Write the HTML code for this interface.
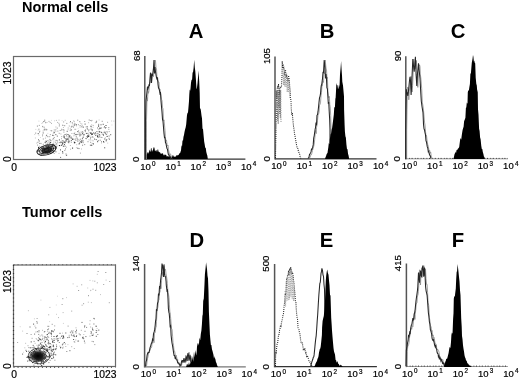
<!DOCTYPE html>
<html><head><meta charset="utf-8"><style>
html,body{margin:0;padding:0;background:#fff;width:520px;height:380px;overflow:hidden}
svg{display:block;filter:blur(0.3px)}
</style></head><body>
<svg width="520" height="380" viewBox="0 0 520 380">
<rect width="520" height="380" fill="#fff"/>
<text x="22" y="12" font-family="Liberation Sans, sans-serif" font-weight="bold" font-size="14.5" fill="#000">Normal cells</text>
<text x="22" y="216.5" font-family="Liberation Sans, sans-serif" font-weight="bold" font-size="14.5" fill="#000">Tumor cells</text>
<text x="196" y="38.2" text-anchor="middle" font-family="Liberation Sans, sans-serif" font-weight="bold" font-size="20.3" fill="#000">A</text>
<text x="327" y="38.2" text-anchor="middle" font-family="Liberation Sans, sans-serif" font-weight="bold" font-size="20.3" fill="#000">B</text>
<text x="458" y="38.2" text-anchor="middle" font-family="Liberation Sans, sans-serif" font-weight="bold" font-size="20.3" fill="#000">C</text>
<text x="196.8" y="247.4" text-anchor="middle" font-family="Liberation Sans, sans-serif" font-weight="bold" font-size="20.3" fill="#000">D</text>
<text x="326.5" y="247.4" text-anchor="middle" font-family="Liberation Sans, sans-serif" font-weight="bold" font-size="20.3" fill="#000">E</text>
<text x="458" y="247.4" text-anchor="middle" font-family="Liberation Sans, sans-serif" font-weight="bold" font-size="20.3" fill="#000">F</text>
<rect x="13.5" y="56.5" width="102.0" height="103.0" fill="none" stroke="#6a6a6a" stroke-width="1.2"/>
<text transform="translate(10.5,84.5) rotate(-90)" font-family="Liberation Sans, sans-serif" font-size="10.3" fill="#000" stroke="#000" stroke-width="0.2">1023</text>
<text transform="translate(10.5,162.0) rotate(-90)" font-family="Liberation Sans, sans-serif" font-size="10.3" fill="#000" stroke="#000" stroke-width="0.2">0</text>
<text x="14.2" y="171.0" text-anchor="middle" font-family="Liberation Sans, sans-serif" font-size="10.3" fill="#000" stroke="#000" stroke-width="0.2">0</text>
<text x="116.5" y="171.0" text-anchor="end" font-family="Liberation Sans, sans-serif" font-size="10.3" fill="#000" stroke="#000" stroke-width="0.2">1023</text>
<rect x="45.3" y="151.3" width="1" height="1" fill="#000" fill-opacity="0.83"/>
<rect x="51.5" y="150.0" width="1" height="1" fill="#000" fill-opacity="0.68"/>
<rect x="51.5" y="149.7" width="1" height="1" fill="#000" fill-opacity="0.52"/>
<rect x="44.9" y="150.7" width="1" height="1" fill="#000" fill-opacity="0.55"/>
<rect x="39.0" y="153.4" width="1" height="1" fill="#000" fill-opacity="0.56"/>
<rect x="47.6" y="152.5" width="1" height="1" fill="#000" fill-opacity="0.97"/>
<rect x="42.5" y="150.0" width="1" height="1" fill="#000" fill-opacity="0.99"/>
<rect x="55.0" y="149.2" width="1" height="1" fill="#000" fill-opacity="0.64"/>
<rect x="47.9" y="150.5" width="1" height="1" fill="#000" fill-opacity="0.65"/>
<rect x="47.6" y="148.6" width="1" height="1" fill="#000" fill-opacity="0.79"/>
<rect x="43.7" y="149.1" width="1" height="1" fill="#000" fill-opacity="0.77"/>
<rect x="48.0" y="149.9" width="1" height="1" fill="#000" fill-opacity="0.60"/>
<rect x="44.5" y="148.5" width="1" height="1" fill="#000" fill-opacity="0.66"/>
<rect x="42.3" y="149.8" width="1" height="1" fill="#000" fill-opacity="0.65"/>
<rect x="48.4" y="146.6" width="1" height="1" fill="#000" fill-opacity="0.62"/>
<rect x="41.6" y="150.0" width="1" height="1" fill="#000" fill-opacity="0.94"/>
<rect x="46.0" y="148.5" width="1" height="1" fill="#000" fill-opacity="0.99"/>
<rect x="50.0" y="150.6" width="1" height="1" fill="#000" fill-opacity="0.88"/>
<rect x="49.5" y="151.2" width="1" height="1" fill="#000" fill-opacity="0.52"/>
<rect x="42.7" y="147.9" width="1" height="1" fill="#000" fill-opacity="0.79"/>
<rect x="49.3" y="148.2" width="1" height="1" fill="#000" fill-opacity="0.85"/>
<rect x="41.6" y="149.6" width="1" height="1" fill="#000" fill-opacity="0.73"/>
<rect x="52.3" y="144.6" width="1" height="1" fill="#000" fill-opacity="0.74"/>
<rect x="45.7" y="149.6" width="1" height="1" fill="#000" fill-opacity="0.85"/>
<rect x="38.0" y="146.9" width="1" height="1" fill="#000" fill-opacity="0.91"/>
<rect x="45.5" y="152.1" width="1" height="1" fill="#000" fill-opacity="0.83"/>
<rect x="51.5" y="149.2" width="1" height="1" fill="#000" fill-opacity="0.58"/>
<rect x="47.7" y="150.2" width="1" height="1" fill="#000" fill-opacity="0.88"/>
<rect x="48.8" y="150.6" width="1" height="1" fill="#000" fill-opacity="0.70"/>
<rect x="47.8" y="149.1" width="1" height="1" fill="#000" fill-opacity="0.72"/>
<rect x="37.6" y="150.7" width="1" height="1" fill="#000" fill-opacity="0.91"/>
<rect x="48.9" y="148.3" width="1" height="1" fill="#000" fill-opacity="0.71"/>
<rect x="40.6" y="154.5" width="1" height="1" fill="#000" fill-opacity="0.98"/>
<rect x="48.1" y="150.6" width="1" height="1" fill="#000" fill-opacity="0.62"/>
<rect x="47.0" y="152.2" width="1" height="1" fill="#000" fill-opacity="0.79"/>
<rect x="46.5" y="150.2" width="1" height="1" fill="#000" fill-opacity="0.71"/>
<rect x="42.5" y="152.8" width="1" height="1" fill="#000" fill-opacity="0.98"/>
<rect x="44.5" y="148.2" width="1" height="1" fill="#000" fill-opacity="0.81"/>
<rect x="45.8" y="149.6" width="1" height="1" fill="#000" fill-opacity="0.95"/>
<rect x="48.2" y="145.6" width="1" height="1" fill="#000" fill-opacity="0.90"/>
<rect x="43.0" y="152.1" width="1" height="1" fill="#000" fill-opacity="0.55"/>
<rect x="45.4" y="149.7" width="1" height="1" fill="#000" fill-opacity="0.53"/>
<rect x="47.2" y="151.0" width="1" height="1" fill="#000" fill-opacity="0.67"/>
<rect x="46.6" y="150.0" width="1" height="1" fill="#000" fill-opacity="0.58"/>
<rect x="49.9" y="150.4" width="1" height="1" fill="#000" fill-opacity="0.51"/>
<rect x="50.9" y="147.1" width="1" height="1" fill="#000" fill-opacity="0.57"/>
<rect x="46.4" y="151.9" width="1" height="1" fill="#000" fill-opacity="0.68"/>
<rect x="52.8" y="151.3" width="1" height="1" fill="#000" fill-opacity="1.00"/>
<rect x="41.4" y="151.6" width="1" height="1" fill="#000" fill-opacity="0.54"/>
<rect x="49.8" y="150.4" width="1" height="1" fill="#000" fill-opacity="0.63"/>
<rect x="47.8" y="148.7" width="1" height="1" fill="#000" fill-opacity="0.51"/>
<rect x="51.8" y="148.1" width="1" height="1" fill="#000" fill-opacity="0.57"/>
<rect x="45.5" y="150.1" width="1" height="1" fill="#000" fill-opacity="0.76"/>
<rect x="55.4" y="147.5" width="1" height="1" fill="#000" fill-opacity="0.85"/>
<rect x="46.2" y="152.0" width="1" height="1" fill="#000" fill-opacity="0.58"/>
<rect x="47.3" y="147.4" width="1" height="1" fill="#000" fill-opacity="0.89"/>
<rect x="45.0" y="151.6" width="1" height="1" fill="#000" fill-opacity="0.91"/>
<rect x="55.3" y="147.7" width="1" height="1" fill="#000" fill-opacity="0.90"/>
<rect x="49.6" y="146.3" width="1" height="1" fill="#000" fill-opacity="0.61"/>
<rect x="42.3" y="150.7" width="1" height="1" fill="#000" fill-opacity="0.51"/>
<rect x="50.1" y="149.5" width="1" height="1" fill="#000" fill-opacity="0.63"/>
<rect x="42.5" y="146.2" width="1" height="1" fill="#000" fill-opacity="0.72"/>
<rect x="58.9" y="145.0" width="1" height="1" fill="#000" fill-opacity="0.98"/>
<rect x="44.4" y="151.5" width="1" height="1" fill="#000" fill-opacity="0.61"/>
<rect x="47.5" y="151.1" width="1" height="1" fill="#000" fill-opacity="0.81"/>
<rect x="53.5" y="146.2" width="1" height="1" fill="#000" fill-opacity="0.74"/>
<rect x="41.9" y="148.1" width="1" height="1" fill="#000" fill-opacity="0.54"/>
<rect x="41.2" y="147.5" width="1" height="1" fill="#000" fill-opacity="0.89"/>
<rect x="46.5" y="147.7" width="1" height="1" fill="#000" fill-opacity="0.59"/>
<rect x="47.5" y="148.0" width="1" height="1" fill="#000" fill-opacity="0.90"/>
<rect x="50.9" y="148.7" width="1" height="1" fill="#000" fill-opacity="0.70"/>
<rect x="53.3" y="147.4" width="1" height="1" fill="#000" fill-opacity="0.59"/>
<rect x="48.3" y="150.4" width="1" height="1" fill="#000" fill-opacity="0.95"/>
<rect x="47.4" y="148.8" width="1" height="1" fill="#000" fill-opacity="0.91"/>
<rect x="53.0" y="148.2" width="1" height="1" fill="#000" fill-opacity="0.68"/>
<rect x="44.2" y="150.2" width="1" height="1" fill="#000" fill-opacity="0.51"/>
<rect x="52.9" y="148.0" width="1" height="1" fill="#000" fill-opacity="0.76"/>
<rect x="50.9" y="148.2" width="1" height="1" fill="#000" fill-opacity="0.94"/>
<rect x="47.9" y="148.5" width="1" height="1" fill="#000" fill-opacity="0.63"/>
<rect x="45.6" y="151.6" width="1" height="1" fill="#000" fill-opacity="0.79"/>
<rect x="46.2" y="152.1" width="1" height="1" fill="#000" fill-opacity="0.57"/>
<rect x="50.1" y="148.2" width="1" height="1" fill="#000" fill-opacity="0.73"/>
<rect x="38.1" y="149.7" width="1" height="1" fill="#000" fill-opacity="0.71"/>
<rect x="51.1" y="147.8" width="1" height="1" fill="#000" fill-opacity="0.77"/>
<rect x="45.6" y="150.1" width="1" height="1" fill="#000" fill-opacity="0.72"/>
<rect x="46.7" y="150.1" width="1" height="1" fill="#000" fill-opacity="0.90"/>
<rect x="48.9" y="151.5" width="1" height="1" fill="#000" fill-opacity="0.86"/>
<rect x="42.8" y="150.2" width="1" height="1" fill="#000" fill-opacity="0.76"/>
<rect x="39.1" y="150.5" width="1" height="1" fill="#000" fill-opacity="0.55"/>
<rect x="43.3" y="150.1" width="1" height="1" fill="#000" fill-opacity="0.64"/>
<rect x="90.5" y="132.9" width="1" height="1" fill="#000" fill-opacity="0.62"/>
<rect x="98.9" y="134.1" width="1" height="1" fill="#000" fill-opacity="0.48"/>
<rect x="77.0" y="131.1" width="1" height="1" fill="#000" fill-opacity="0.49"/>
<rect x="80.3" y="134.4" width="1" height="1" fill="#000" fill-opacity="0.68"/>
<rect x="104.3" y="138.5" width="1" height="1" fill="#000" fill-opacity="0.72"/>
<rect x="99.4" y="134.6" width="1" height="1" fill="#000" fill-opacity="0.44"/>
<rect x="48.3" y="146.8" width="1" height="1" fill="#000" fill-opacity="0.57"/>
<rect x="96.4" y="131.1" width="1" height="1" fill="#000" fill-opacity="0.59"/>
<rect x="91.3" y="144.7" width="1" height="1" fill="#000" fill-opacity="0.73"/>
<rect x="61.8" y="140.1" width="1" height="1" fill="#000" fill-opacity="0.47"/>
<rect x="108.3" y="127.1" width="1" height="1" fill="#000" fill-opacity="0.44"/>
<rect x="77.3" y="140.5" width="1" height="1" fill="#000" fill-opacity="0.38"/>
<rect x="95.0" y="135.0" width="1" height="1" fill="#000" fill-opacity="0.44"/>
<rect x="41.7" y="152.9" width="1" height="1" fill="#000" fill-opacity="0.48"/>
<rect x="52.8" y="143.7" width="1" height="1" fill="#000" fill-opacity="0.73"/>
<rect x="50.6" y="145.6" width="1" height="1" fill="#000" fill-opacity="0.63"/>
<rect x="64.5" y="145.6" width="1" height="1" fill="#000" fill-opacity="0.70"/>
<rect x="97.1" y="136.0" width="1" height="1" fill="#000" fill-opacity="0.71"/>
<rect x="81.4" y="133.9" width="1" height="1" fill="#000" fill-opacity="0.23"/>
<rect x="88.1" y="135.6" width="1" height="1" fill="#000" fill-opacity="0.72"/>
<rect x="86.2" y="133.0" width="1" height="1" fill="#000" fill-opacity="0.67"/>
<rect x="49.9" y="139.6" width="1" height="1" fill="#000" fill-opacity="0.39"/>
<rect x="82.9" y="134.5" width="1" height="1" fill="#000" fill-opacity="0.27"/>
<rect x="79.2" y="139.9" width="1" height="1" fill="#000" fill-opacity="0.29"/>
<rect x="47.3" y="149.9" width="1" height="1" fill="#000" fill-opacity="0.37"/>
<rect x="92.6" y="140.4" width="1" height="1" fill="#000" fill-opacity="0.30"/>
<rect x="69.7" y="140.3" width="1" height="1" fill="#000" fill-opacity="0.21"/>
<rect x="90.1" y="132.7" width="1" height="1" fill="#000" fill-opacity="0.46"/>
<rect x="108.5" y="137.8" width="1" height="1" fill="#000" fill-opacity="0.44"/>
<rect x="78.6" y="132.3" width="1" height="1" fill="#000" fill-opacity="0.48"/>
<rect x="91.9" y="134.0" width="1" height="1" fill="#000" fill-opacity="0.66"/>
<rect x="88.3" y="129.7" width="1" height="1" fill="#000" fill-opacity="0.39"/>
<rect x="47.6" y="146.5" width="1" height="1" fill="#000" fill-opacity="0.61"/>
<rect x="62.0" y="143.5" width="1" height="1" fill="#000" fill-opacity="0.66"/>
<rect x="99.1" y="127.6" width="1" height="1" fill="#000" fill-opacity="0.33"/>
<rect x="62.2" y="141.6" width="1" height="1" fill="#000" fill-opacity="0.45"/>
<rect x="69.7" y="137.4" width="1" height="1" fill="#000" fill-opacity="0.50"/>
<rect x="63.1" y="140.4" width="1" height="1" fill="#000" fill-opacity="0.40"/>
<rect x="39.6" y="150.6" width="1" height="1" fill="#000" fill-opacity="0.48"/>
<rect x="57.3" y="142.2" width="1" height="1" fill="#000" fill-opacity="0.35"/>
<rect x="48.8" y="145.2" width="1" height="1" fill="#000" fill-opacity="0.21"/>
<rect x="65.0" y="148.4" width="1" height="1" fill="#000" fill-opacity="0.49"/>
<rect x="90.4" y="125.7" width="1" height="1" fill="#000" fill-opacity="0.68"/>
<rect x="66.3" y="154.6" width="1" height="1" fill="#000" fill-opacity="0.28"/>
<rect x="90.8" y="132.6" width="1" height="1" fill="#000" fill-opacity="0.66"/>
<rect x="98.1" y="124.6" width="1" height="1" fill="#000" fill-opacity="0.65"/>
<rect x="49.7" y="142.2" width="1" height="1" fill="#000" fill-opacity="0.66"/>
<rect x="98.1" y="125.8" width="1" height="1" fill="#000" fill-opacity="0.69"/>
<rect x="88.1" y="130.6" width="1" height="1" fill="#000" fill-opacity="0.22"/>
<rect x="51.8" y="145.6" width="1" height="1" fill="#000" fill-opacity="0.66"/>
<rect x="78.1" y="130.5" width="1" height="1" fill="#000" fill-opacity="0.57"/>
<rect x="82.0" y="137.8" width="1" height="1" fill="#000" fill-opacity="0.61"/>
<rect x="73.3" y="135.4" width="1" height="1" fill="#000" fill-opacity="0.24"/>
<rect x="92.1" y="136.2" width="1" height="1" fill="#000" fill-opacity="0.35"/>
<rect x="93.0" y="143.4" width="1" height="1" fill="#000" fill-opacity="0.74"/>
<rect x="74.4" y="142.1" width="1" height="1" fill="#000" fill-opacity="0.58"/>
<rect x="90.8" y="127.6" width="1" height="1" fill="#000" fill-opacity="0.24"/>
<rect x="53.7" y="153.0" width="1" height="1" fill="#000" fill-opacity="0.37"/>
<rect x="82.7" y="136.6" width="1" height="1" fill="#000" fill-opacity="0.35"/>
<rect x="86.6" y="126.4" width="1" height="1" fill="#000" fill-opacity="0.36"/>
<rect x="75.1" y="138.7" width="1" height="1" fill="#000" fill-opacity="0.27"/>
<rect x="104.2" y="147.3" width="1" height="1" fill="#000" fill-opacity="0.71"/>
<rect x="38.4" y="148.4" width="1" height="1" fill="#000" fill-opacity="0.73"/>
<rect x="73.9" y="142.3" width="1" height="1" fill="#000" fill-opacity="0.72"/>
<rect x="56.8" y="140.4" width="1" height="1" fill="#000" fill-opacity="0.49"/>
<rect x="108.9" y="138.9" width="1" height="1" fill="#000" fill-opacity="0.48"/>
<rect x="100.6" y="127.5" width="1" height="1" fill="#000" fill-opacity="0.69"/>
<rect x="76.7" y="137.7" width="1" height="1" fill="#000" fill-opacity="0.47"/>
<rect x="73.7" y="141.3" width="1" height="1" fill="#000" fill-opacity="0.39"/>
<rect x="65.5" y="140.0" width="1" height="1" fill="#000" fill-opacity="0.61"/>
<rect x="103.4" y="141.7" width="1" height="1" fill="#000" fill-opacity="0.59"/>
<rect x="101.4" y="137.0" width="1" height="1" fill="#000" fill-opacity="0.42"/>
<rect x="105.5" y="127.0" width="1" height="1" fill="#000" fill-opacity="0.44"/>
<rect x="64.0" y="141.8" width="1" height="1" fill="#000" fill-opacity="0.66"/>
<rect x="65.5" y="139.0" width="1" height="1" fill="#000" fill-opacity="0.35"/>
<rect x="79.1" y="142.6" width="1" height="1" fill="#000" fill-opacity="0.73"/>
<rect x="102.7" y="123.8" width="1" height="1" fill="#000" fill-opacity="0.70"/>
<rect x="99.9" y="127.9" width="1" height="1" fill="#000" fill-opacity="0.23"/>
<rect x="87.1" y="137.0" width="1" height="1" fill="#000" fill-opacity="0.55"/>
<rect x="69.9" y="145.0" width="1" height="1" fill="#000" fill-opacity="0.27"/>
<rect x="74.2" y="142.1" width="1" height="1" fill="#000" fill-opacity="0.61"/>
<rect x="106.3" y="139.1" width="1" height="1" fill="#000" fill-opacity="0.37"/>
<rect x="79.6" y="138.8" width="1" height="1" fill="#000" fill-opacity="0.29"/>
<rect x="61.0" y="138.2" width="1" height="1" fill="#000" fill-opacity="0.32"/>
<rect x="105.7" y="131.2" width="1" height="1" fill="#000" fill-opacity="0.28"/>
<rect x="59.3" y="145.3" width="1" height="1" fill="#000" fill-opacity="0.25"/>
<rect x="60.0" y="149.4" width="1" height="1" fill="#000" fill-opacity="0.69"/>
<rect x="90.3" y="136.9" width="1" height="1" fill="#000" fill-opacity="0.49"/>
<rect x="68.9" y="141.2" width="1" height="1" fill="#000" fill-opacity="0.35"/>
<rect x="108.6" y="135.5" width="1" height="1" fill="#000" fill-opacity="0.55"/>
<rect x="100.3" y="136.7" width="1" height="1" fill="#000" fill-opacity="0.34"/>
<rect x="63.9" y="144.0" width="1" height="1" fill="#000" fill-opacity="0.67"/>
<rect x="101.2" y="132.1" width="1" height="1" fill="#000" fill-opacity="0.59"/>
<rect x="97.8" y="132.8" width="1" height="1" fill="#000" fill-opacity="0.20"/>
<rect x="75.4" y="134.1" width="1" height="1" fill="#000" fill-opacity="0.67"/>
<rect x="106.4" y="133.3" width="1" height="1" fill="#000" fill-opacity="0.28"/>
<rect x="75.8" y="124.1" width="1" height="1" fill="#000" fill-opacity="0.60"/>
<rect x="86.9" y="128.6" width="1" height="1" fill="#000" fill-opacity="0.50"/>
<rect x="46.0" y="140.8" width="1" height="1" fill="#000" fill-opacity="0.71"/>
<rect x="86.0" y="138.2" width="1" height="1" fill="#000" fill-opacity="0.34"/>
<rect x="85.5" y="132.6" width="1" height="1" fill="#000" fill-opacity="0.24"/>
<rect x="76.3" y="134.1" width="1" height="1" fill="#000" fill-opacity="0.32"/>
<rect x="86.3" y="136.2" width="1" height="1" fill="#000" fill-opacity="0.45"/>
<rect x="101.7" y="120.8" width="1" height="1" fill="#000" fill-opacity="0.46"/>
<rect x="60.1" y="156.9" width="1" height="1" fill="#000" fill-opacity="0.59"/>
<rect x="68.3" y="141.4" width="1" height="1" fill="#000" fill-opacity="0.57"/>
<rect x="72.0" y="147.6" width="1" height="1" fill="#000" fill-opacity="0.71"/>
<rect x="62.0" y="142.9" width="1" height="1" fill="#000" fill-opacity="0.43"/>
<rect x="90.5" y="144.8" width="1" height="1" fill="#000" fill-opacity="0.61"/>
<rect x="79.9" y="152.6" width="1" height="1" fill="#000" fill-opacity="0.37"/>
<rect x="97.5" y="136.8" width="1" height="1" fill="#000" fill-opacity="0.62"/>
<rect x="67.3" y="138.6" width="1" height="1" fill="#000" fill-opacity="0.30"/>
<rect x="55.3" y="146.3" width="1" height="1" fill="#000" fill-opacity="0.72"/>
<rect x="52.1" y="145.7" width="1" height="1" fill="#000" fill-opacity="0.74"/>
<rect x="54.4" y="143.9" width="1" height="1" fill="#000" fill-opacity="0.42"/>
<rect x="105.5" y="125.0" width="1" height="1" fill="#000" fill-opacity="0.75"/>
<rect x="103.0" y="134.4" width="1" height="1" fill="#000" fill-opacity="0.71"/>
<rect x="97.1" y="135.5" width="1" height="1" fill="#000" fill-opacity="0.41"/>
<rect x="68.3" y="142.6" width="1" height="1" fill="#000" fill-opacity="0.20"/>
<rect x="58.5" y="152.9" width="1" height="1" fill="#000" fill-opacity="0.27"/>
<rect x="106.6" y="135.9" width="1" height="1" fill="#000" fill-opacity="0.65"/>
<rect x="96.5" y="133.4" width="1" height="1" fill="#000" fill-opacity="0.46"/>
<rect x="70.9" y="137.5" width="1" height="1" fill="#000" fill-opacity="0.40"/>
<rect x="104.9" y="132.7" width="1" height="1" fill="#000" fill-opacity="0.65"/>
<rect x="94.7" y="133.8" width="1" height="1" fill="#000" fill-opacity="0.23"/>
<rect x="103.0" y="141.1" width="1" height="1" fill="#000" fill-opacity="0.69"/>
<rect x="65.9" y="154.9" width="1" height="1" fill="#000" fill-opacity="0.54"/>
<rect x="61.2" y="136.1" width="1" height="1" fill="#000" fill-opacity="0.35"/>
<rect x="42.7" y="132.5" width="1" height="1" fill="#000" fill-opacity="0.55"/>
<rect x="106.8" y="131.5" width="1" height="1" fill="#000" fill-opacity="0.46"/>
<rect x="108.3" y="128.9" width="1" height="1" fill="#000" fill-opacity="0.34"/>
<rect x="66.0" y="139.1" width="1" height="1" fill="#000" fill-opacity="0.30"/>
<rect x="95.7" y="121.7" width="1" height="1" fill="#000" fill-opacity="0.63"/>
<rect x="82.9" y="140.4" width="1" height="1" fill="#000" fill-opacity="0.40"/>
<rect x="96.7" y="135.1" width="1" height="1" fill="#000" fill-opacity="0.61"/>
<rect x="61.5" y="142.1" width="1" height="1" fill="#000" fill-opacity="0.50"/>
<rect x="72.2" y="138.6" width="1" height="1" fill="#000" fill-opacity="0.74"/>
<rect x="63.1" y="142.5" width="1" height="1" fill="#000" fill-opacity="0.47"/>
<rect x="88.4" y="135.7" width="1" height="1" fill="#000" fill-opacity="0.43"/>
<rect x="82.7" y="126.7" width="1" height="1" fill="#000" fill-opacity="0.67"/>
<rect x="91.8" y="142.9" width="1" height="1" fill="#000" fill-opacity="0.36"/>
<rect x="78.2" y="143.4" width="1" height="1" fill="#000" fill-opacity="0.31"/>
<rect x="60.8" y="144.9" width="1" height="1" fill="#000" fill-opacity="0.69"/>
<rect x="80.9" y="141.6" width="1" height="1" fill="#000" fill-opacity="0.75"/>
<rect x="78.5" y="148.1" width="1" height="1" fill="#000" fill-opacity="0.56"/>
<rect x="110.2" y="134.2" width="1" height="1" fill="#000" fill-opacity="0.65"/>
<rect x="99.2" y="131.4" width="1" height="1" fill="#000" fill-opacity="0.36"/>
<rect x="99.7" y="139.7" width="1" height="1" fill="#000" fill-opacity="0.45"/>
<rect x="62.9" y="127.0" width="1" height="1" fill="#000" fill-opacity="0.26"/>
<rect x="81.9" y="133.1" width="1" height="1" fill="#000" fill-opacity="0.40"/>
<rect x="54.0" y="147.7" width="1" height="1" fill="#000" fill-opacity="0.53"/>
<rect x="87.0" y="136.0" width="1" height="1" fill="#000" fill-opacity="0.38"/>
<rect x="89.6" y="139.5" width="1" height="1" fill="#000" fill-opacity="0.31"/>
<rect x="94.7" y="132.3" width="1" height="1" fill="#000" fill-opacity="0.26"/>
<rect x="66.6" y="136.4" width="1" height="1" fill="#000" fill-opacity="0.25"/>
<rect x="53.9" y="137.1" width="1" height="1" fill="#000" fill-opacity="0.36"/>
<rect x="67.3" y="139.0" width="1" height="1" fill="#000" fill-opacity="0.51"/>
<rect x="62.9" y="145.7" width="1" height="1" fill="#000" fill-opacity="0.75"/>
<rect x="70.1" y="148.7" width="1" height="1" fill="#000" fill-opacity="0.31"/>
<rect x="45.2" y="142.2" width="1" height="1" fill="#000" fill-opacity="0.65"/>
<rect x="73.8" y="134.4" width="1" height="1" fill="#000" fill-opacity="0.29"/>
<rect x="39.4" y="142.9" width="1" height="1" fill="#000" fill-opacity="0.70"/>
<rect x="47.4" y="140.2" width="1" height="1" fill="#000" fill-opacity="0.48"/>
<rect x="52.9" y="150.3" width="1" height="1" fill="#000" fill-opacity="0.71"/>
<rect x="45.6" y="144.5" width="1" height="1" fill="#000" fill-opacity="0.73"/>
<rect x="62.3" y="152.5" width="1" height="1" fill="#000" fill-opacity="0.74"/>
<rect x="82.7" y="142.2" width="1" height="1" fill="#000" fill-opacity="0.41"/>
<rect x="98.2" y="123.7" width="1" height="1" fill="#000" fill-opacity="0.29"/>
<rect x="95.7" y="139.1" width="1" height="1" fill="#000" fill-opacity="0.67"/>
<rect x="98.6" y="136.3" width="1" height="1" fill="#000" fill-opacity="0.42"/>
<rect x="77.4" y="139.2" width="1" height="1" fill="#000" fill-opacity="0.34"/>
<rect x="92.1" y="133.0" width="1" height="1" fill="#000" fill-opacity="0.51"/>
<rect x="99.0" y="136.3" width="1" height="1" fill="#000" fill-opacity="0.26"/>
<rect x="79.6" y="133.3" width="1" height="1" fill="#000" fill-opacity="0.37"/>
<rect x="69.5" y="135.5" width="1" height="1" fill="#000" fill-opacity="0.56"/>
<rect x="73.4" y="138.7" width="1" height="1" fill="#000" fill-opacity="0.54"/>
<rect x="77.2" y="147.7" width="1" height="1" fill="#000" fill-opacity="0.63"/>
<rect x="76.2" y="144.2" width="1" height="1" fill="#000" fill-opacity="0.26"/>
<rect x="51.2" y="144.6" width="1" height="1" fill="#000" fill-opacity="0.44"/>
<rect x="82.1" y="139.4" width="1" height="1" fill="#000" fill-opacity="0.25"/>
<rect x="92.6" y="126.8" width="1" height="1" fill="#000" fill-opacity="0.23"/>
<rect x="72.3" y="147.6" width="1" height="1" fill="#000" fill-opacity="0.27"/>
<rect x="104.3" y="131.8" width="1" height="1" fill="#000" fill-opacity="0.65"/>
<rect x="60.5" y="141.5" width="1" height="1" fill="#000" fill-opacity="0.73"/>
<rect x="105.7" y="140.3" width="1" height="1" fill="#000" fill-opacity="0.71"/>
<rect x="44.7" y="152.7" width="1" height="1" fill="#000" fill-opacity="0.29"/>
<rect x="101.0" y="142.4" width="1" height="1" fill="#000" fill-opacity="0.28"/>
<rect x="79.3" y="135.4" width="1" height="1" fill="#000" fill-opacity="0.34"/>
<rect x="77.4" y="138.8" width="1" height="1" fill="#000" fill-opacity="0.30"/>
<rect x="58.9" y="139.4" width="1" height="1" fill="#000" fill-opacity="0.69"/>
<rect x="55.6" y="139.9" width="1" height="1" fill="#000" fill-opacity="0.49"/>
<rect x="82.1" y="144.7" width="1" height="1" fill="#000" fill-opacity="0.51"/>
<rect x="83.5" y="134.3" width="1" height="1" fill="#000" fill-opacity="0.75"/>
<rect x="81.3" y="142.1" width="1" height="1" fill="#000" fill-opacity="0.35"/>
<rect x="104.9" y="127.5" width="1" height="1" fill="#000" fill-opacity="0.62"/>
<rect x="75.9" y="147.2" width="1" height="1" fill="#000" fill-opacity="0.23"/>
<rect x="97.1" y="141.2" width="1" height="1" fill="#000" fill-opacity="0.74"/>
<rect x="81.5" y="131.7" width="1" height="1" fill="#000" fill-opacity="0.20"/>
<rect x="47.6" y="151.9" width="1" height="1" fill="#000" fill-opacity="0.44"/>
<rect x="79.4" y="135.3" width="1" height="1" fill="#000" fill-opacity="0.32"/>
<rect x="87.2" y="135.2" width="1" height="1" fill="#000" fill-opacity="0.40"/>
<rect x="49.5" y="147.2" width="1" height="1" fill="#000" fill-opacity="0.52"/>
<rect x="84.2" y="144.1" width="1" height="1" fill="#000" fill-opacity="0.46"/>
<rect x="54.9" y="141.6" width="1" height="1" fill="#000" fill-opacity="0.28"/>
<rect x="46.1" y="134.8" width="1" height="1" fill="#000" fill-opacity="0.63"/>
<rect x="71.0" y="139.9" width="1" height="1" fill="#000" fill-opacity="0.55"/>
<rect x="78.8" y="143.5" width="1" height="1" fill="#000" fill-opacity="0.44"/>
<rect x="104.0" y="126.4" width="1" height="1" fill="#000" fill-opacity="0.70"/>
<rect x="43.0" y="143.8" width="1" height="1" fill="#000" fill-opacity="0.33"/>
<rect x="47.2" y="143.8" width="1" height="1" fill="#000" fill-opacity="0.50"/>
<rect x="105.7" y="134.0" width="1" height="1" fill="#000" fill-opacity="0.53"/>
<rect x="74.3" y="128.8" width="1" height="1" fill="#000" fill-opacity="0.30"/>
<rect x="64.7" y="142.2" width="1" height="1" fill="#000" fill-opacity="0.69"/>
<rect x="94.9" y="132.5" width="1" height="1" fill="#000" fill-opacity="0.66"/>
<rect x="87.8" y="135.9" width="1" height="1" fill="#000" fill-opacity="0.45"/>
<rect x="61.0" y="144.5" width="1" height="1" fill="#000" fill-opacity="0.22"/>
<rect x="66.7" y="130.8" width="1" height="1" fill="#000" fill-opacity="0.66"/>
<rect x="90.2" y="141.8" width="1" height="1" fill="#000" fill-opacity="0.44"/>
<rect x="93.0" y="132.4" width="1" height="1" fill="#000" fill-opacity="0.55"/>
<rect x="107.2" y="142.6" width="1" height="1" fill="#000" fill-opacity="0.21"/>
<rect x="62.1" y="151.1" width="1" height="1" fill="#000" fill-opacity="0.72"/>
<rect x="89.8" y="144.7" width="1" height="1" fill="#000" fill-opacity="0.38"/>
<rect x="63.8" y="136.9" width="1" height="1" fill="#000" fill-opacity="0.58"/>
<rect x="91.1" y="134.0" width="1" height="1" fill="#000" fill-opacity="0.66"/>
<rect x="91.7" y="129.4" width="1" height="1" fill="#000" fill-opacity="0.60"/>
<rect x="81.1" y="140.2" width="1" height="1" fill="#000" fill-opacity="0.54"/>
<rect x="50.0" y="142.6" width="1" height="1" fill="#000" fill-opacity="0.21"/>
<rect x="53.3" y="141.5" width="1" height="1" fill="#000" fill-opacity="0.28"/>
<rect x="49.2" y="147.7" width="1" height="1" fill="#000" fill-opacity="0.55"/>
<rect x="89.6" y="132.2" width="1" height="1" fill="#000" fill-opacity="0.52"/>
<rect x="70.8" y="129.4" width="1" height="1" fill="#000" fill-opacity="0.69"/>
<rect x="52.2" y="134.8" width="1" height="1" fill="#000" fill-opacity="0.72"/>
<rect x="51.2" y="146.7" width="1" height="1" fill="#000" fill-opacity="0.22"/>
<rect x="100.5" y="124.3" width="1" height="1" fill="#000" fill-opacity="0.65"/>
<rect x="85.3" y="138.1" width="1" height="1" fill="#000" fill-opacity="0.25"/>
<rect x="94.1" y="138.6" width="1" height="1" fill="#000" fill-opacity="0.43"/>
<rect x="43.9" y="150.4" width="1" height="1" fill="#000" fill-opacity="0.59"/>
<rect x="65.5" y="153.5" width="1" height="1" fill="#000" fill-opacity="0.48"/>
<rect x="98.5" y="131.1" width="1" height="1" fill="#000" fill-opacity="0.43"/>
<rect x="73.7" y="132.9" width="1" height="1" fill="#000" fill-opacity="0.59"/>
<rect x="81.0" y="148.5" width="1" height="1" fill="#000" fill-opacity="0.25"/>
<rect x="97.3" y="132.9" width="1" height="1" fill="#000" fill-opacity="0.31"/>
<rect x="94.0" y="133.4" width="1" height="1" fill="#000" fill-opacity="0.47"/>
<rect x="77.4" y="133.9" width="1" height="1" fill="#000" fill-opacity="0.47"/>
<rect x="68.6" y="135.8" width="1" height="1" fill="#000" fill-opacity="0.72"/>
<rect x="64.3" y="149.9" width="1" height="1" fill="#000" fill-opacity="0.47"/>
<rect x="50.2" y="141.9" width="1" height="1" fill="#000" fill-opacity="0.63"/>
<rect x="90.7" y="126.2" width="1" height="1" fill="#000" fill-opacity="0.40"/>
<rect x="66.0" y="146.7" width="1" height="1" fill="#000" fill-opacity="0.25"/>
<rect x="103.3" y="132.3" width="1" height="1" fill="#000" fill-opacity="0.34"/>
<rect x="99.2" y="131.4" width="1" height="1" fill="#000" fill-opacity="0.69"/>
<rect x="56.2" y="143.5" width="1" height="1" fill="#000" fill-opacity="0.61"/>
<rect x="91.4" y="129.2" width="1" height="1" fill="#000" fill-opacity="0.38"/>
<rect x="56.8" y="135.6" width="1" height="1" fill="#000" fill-opacity="0.61"/>
<rect x="50.6" y="146.6" width="1" height="1" fill="#000" fill-opacity="0.52"/>
<rect x="46.2" y="146.5" width="1" height="1" fill="#000" fill-opacity="0.33"/>
<rect x="55.4" y="151.3" width="1" height="1" fill="#000" fill-opacity="0.66"/>
<rect x="55.6" y="146.8" width="1" height="1" fill="#000" fill-opacity="0.38"/>
<rect x="80.2" y="141.6" width="1" height="1" fill="#000" fill-opacity="0.30"/>
<rect x="42.1" y="122.3" width="1" height="1" fill="#000" fill-opacity="0.27"/>
<rect x="92.7" y="124.9" width="1" height="1" fill="#000" fill-opacity="0.36"/>
<rect x="42.5" y="130.2" width="1" height="1" fill="#000" fill-opacity="0.13"/>
<rect x="65.9" y="138.6" width="1" height="1" fill="#000" fill-opacity="0.31"/>
<rect x="84.6" y="123.4" width="1" height="1" fill="#000" fill-opacity="0.35"/>
<rect x="68.4" y="140.1" width="1" height="1" fill="#000" fill-opacity="0.28"/>
<rect x="52.3" y="143.7" width="1" height="1" fill="#000" fill-opacity="0.41"/>
<rect x="90.0" y="138.2" width="1" height="1" fill="#000" fill-opacity="0.36"/>
<rect x="70.3" y="136.8" width="1" height="1" fill="#000" fill-opacity="0.16"/>
<rect x="67.6" y="139.1" width="1" height="1" fill="#000" fill-opacity="0.36"/>
<rect x="54.0" y="132.0" width="1" height="1" fill="#000" fill-opacity="0.36"/>
<rect x="48.6" y="140.9" width="1" height="1" fill="#000" fill-opacity="0.27"/>
<rect x="73.2" y="120.5" width="1" height="1" fill="#000" fill-opacity="0.33"/>
<rect x="46.9" y="145.4" width="1" height="1" fill="#000" fill-opacity="0.32"/>
<rect x="42.1" y="134.4" width="1" height="1" fill="#000" fill-opacity="0.39"/>
<rect x="50.8" y="130.3" width="1" height="1" fill="#000" fill-opacity="0.41"/>
<rect x="43.8" y="129.3" width="1" height="1" fill="#000" fill-opacity="0.14"/>
<rect x="55.9" y="119.9" width="1" height="1" fill="#000" fill-opacity="0.28"/>
<rect x="67.6" y="129.2" width="1" height="1" fill="#000" fill-opacity="0.22"/>
<rect x="52.0" y="145.3" width="1" height="1" fill="#000" fill-opacity="0.32"/>
<rect x="51.5" y="130.3" width="1" height="1" fill="#000" fill-opacity="0.20"/>
<rect x="44.3" y="141.8" width="1" height="1" fill="#000" fill-opacity="0.36"/>
<rect x="71.5" y="125.7" width="1" height="1" fill="#000" fill-opacity="0.49"/>
<rect x="99.3" y="127.6" width="1" height="1" fill="#000" fill-opacity="0.33"/>
<rect x="44.0" y="129.3" width="1" height="1" fill="#000" fill-opacity="0.44"/>
<rect x="55.4" y="126.5" width="1" height="1" fill="#000" fill-opacity="0.28"/>
<rect x="48.9" y="139.3" width="1" height="1" fill="#000" fill-opacity="0.23"/>
<rect x="53.6" y="132.7" width="1" height="1" fill="#000" fill-opacity="0.28"/>
<rect x="85.0" y="129.5" width="1" height="1" fill="#000" fill-opacity="0.47"/>
<rect x="45.2" y="136.9" width="1" height="1" fill="#000" fill-opacity="0.13"/>
<rect x="34.9" y="137.5" width="1" height="1" fill="#000" fill-opacity="0.22"/>
<rect x="42.1" y="125.9" width="1" height="1" fill="#000" fill-opacity="0.41"/>
<rect x="61.7" y="144.4" width="1" height="1" fill="#000" fill-opacity="0.42"/>
<rect x="47.4" y="136.2" width="1" height="1" fill="#000" fill-opacity="0.42"/>
<rect x="87.5" y="141.2" width="1" height="1" fill="#000" fill-opacity="0.44"/>
<rect x="49.8" y="134.1" width="1" height="1" fill="#000" fill-opacity="0.40"/>
<rect x="69.1" y="134.8" width="1" height="1" fill="#000" fill-opacity="0.22"/>
<rect x="52.7" y="133.1" width="1" height="1" fill="#000" fill-opacity="0.14"/>
<rect x="71.4" y="133.0" width="1" height="1" fill="#000" fill-opacity="0.31"/>
<rect x="77.2" y="119.7" width="1" height="1" fill="#000" fill-opacity="0.44"/>
<rect x="71.4" y="137.8" width="1" height="1" fill="#000" fill-opacity="0.44"/>
<rect x="40.0" y="137.0" width="1" height="1" fill="#000" fill-opacity="0.13"/>
<rect x="60.4" y="133.5" width="1" height="1" fill="#000" fill-opacity="0.30"/>
<rect x="105.8" y="139.3" width="1" height="1" fill="#000" fill-opacity="0.36"/>
<rect x="61.1" y="129.6" width="1" height="1" fill="#000" fill-opacity="0.30"/>
<rect x="76.0" y="125.3" width="1" height="1" fill="#000" fill-opacity="0.29"/>
<rect x="57.4" y="130.6" width="1" height="1" fill="#000" fill-opacity="0.31"/>
<rect x="55.7" y="146.3" width="1" height="1" fill="#000" fill-opacity="0.37"/>
<rect x="97.4" y="128.2" width="1" height="1" fill="#000" fill-opacity="0.23"/>
<rect x="80.9" y="141.1" width="1" height="1" fill="#000" fill-opacity="0.14"/>
<rect x="77.6" y="127.8" width="1" height="1" fill="#000" fill-opacity="0.12"/>
<rect x="49.2" y="136.2" width="1" height="1" fill="#000" fill-opacity="0.37"/>
<rect x="82.9" y="136.7" width="1" height="1" fill="#000" fill-opacity="0.38"/>
<rect x="81.7" y="125.3" width="1" height="1" fill="#000" fill-opacity="0.37"/>
<rect x="70.6" y="122.3" width="1" height="1" fill="#000" fill-opacity="0.19"/>
<rect x="37.0" y="144.6" width="1" height="1" fill="#000" fill-opacity="0.37"/>
<rect x="63.5" y="141.1" width="1" height="1" fill="#000" fill-opacity="0.33"/>
<rect x="54.6" y="131.1" width="1" height="1" fill="#000" fill-opacity="0.24"/>
<rect x="38.4" y="120.6" width="1" height="1" fill="#000" fill-opacity="0.17"/>
<rect x="69.7" y="130.1" width="1" height="1" fill="#000" fill-opacity="0.34"/>
<rect x="72.0" y="122.3" width="1" height="1" fill="#000" fill-opacity="0.36"/>
<rect x="51.0" y="119.9" width="1" height="1" fill="#000" fill-opacity="0.12"/>
<rect x="41.1" y="123.0" width="1" height="1" fill="#000" fill-opacity="0.13"/>
<rect x="91.5" y="139.7" width="1" height="1" fill="#000" fill-opacity="0.19"/>
<rect x="38.0" y="139.1" width="1" height="1" fill="#000" fill-opacity="0.45"/>
<rect x="92.4" y="136.8" width="1" height="1" fill="#000" fill-opacity="0.39"/>
<rect x="70.8" y="126.5" width="1" height="1" fill="#000" fill-opacity="0.49"/>
<rect x="91.4" y="119.9" width="1" height="1" fill="#000" fill-opacity="0.37"/>
<rect x="99.4" y="128.1" width="1" height="1" fill="#000" fill-opacity="0.40"/>
<rect x="47.3" y="132.9" width="1" height="1" fill="#000" fill-opacity="0.14"/>
<rect x="63.4" y="131.6" width="1" height="1" fill="#000" fill-opacity="0.38"/>
<rect x="45.6" y="129.5" width="1" height="1" fill="#000" fill-opacity="0.37"/>
<rect x="84.4" y="130.1" width="1" height="1" fill="#000" fill-opacity="0.42"/>
<rect x="79.3" y="121.2" width="1" height="1" fill="#000" fill-opacity="0.49"/>
<rect x="90.3" y="128.6" width="1" height="1" fill="#000" fill-opacity="0.35"/>
<rect x="82.1" y="131.3" width="1" height="1" fill="#000" fill-opacity="0.46"/>
<rect x="64.1" y="136.0" width="1" height="1" fill="#000" fill-opacity="0.46"/>
<rect x="98.6" y="119.5" width="1" height="1" fill="#000" fill-opacity="0.22"/>
<rect x="67.8" y="141.9" width="1" height="1" fill="#000" fill-opacity="0.46"/>
<rect x="37.4" y="141.8" width="1" height="1" fill="#000" fill-opacity="0.45"/>
<rect x="107.1" y="121.8" width="1" height="1" fill="#000" fill-opacity="0.33"/>
<rect x="97.8" y="140.1" width="1" height="1" fill="#000" fill-opacity="0.47"/>
<rect x="52.7" y="138.1" width="1" height="1" fill="#000" fill-opacity="0.30"/>
<rect x="50.5" y="140.2" width="1" height="1" fill="#000" fill-opacity="0.42"/>
<rect x="70.8" y="141.7" width="1" height="1" fill="#000" fill-opacity="0.41"/>
<rect x="52.6" y="144.2" width="1" height="1" fill="#000" fill-opacity="0.46"/>
<rect x="75.7" y="135.7" width="1" height="1" fill="#000" fill-opacity="0.19"/>
<rect x="49.4" y="138.8" width="1" height="1" fill="#000" fill-opacity="0.26"/>
<rect x="79.2" y="133.7" width="1" height="1" fill="#000" fill-opacity="0.18"/>
<rect x="37.6" y="129.8" width="1" height="1" fill="#000" fill-opacity="0.16"/>
<rect x="84.6" y="123.8" width="1" height="1" fill="#000" fill-opacity="0.35"/>
<rect x="61.6" y="120.1" width="1" height="1" fill="#000" fill-opacity="0.13"/>
<rect x="72.9" y="126.7" width="1" height="1" fill="#000" fill-opacity="0.42"/>
<rect x="68.1" y="140.6" width="1" height="1" fill="#000" fill-opacity="0.43"/>
<rect x="111.1" y="120.5" width="1" height="1" fill="#000" fill-opacity="0.20"/>
<rect x="48.5" y="120.9" width="1" height="1" fill="#000" fill-opacity="0.33"/>
<rect x="106.8" y="135.9" width="1" height="1" fill="#000" fill-opacity="0.27"/>
<rect x="43.6" y="126.6" width="1" height="1" fill="#000" fill-opacity="0.33"/>
<rect x="85.3" y="137.9" width="1" height="1" fill="#000" fill-opacity="0.27"/>
<rect x="113.3" y="120.6" width="1" height="1" fill="#000" fill-opacity="0.22"/>
<rect x="101.0" y="141.1" width="1" height="1" fill="#000" fill-opacity="0.39"/>
<rect x="38.5" y="140.3" width="1" height="1" fill="#000" fill-opacity="0.48"/>
<rect x="88.2" y="135.8" width="1" height="1" fill="#000" fill-opacity="0.41"/>
<rect x="42.4" y="126.6" width="1" height="1" fill="#000" fill-opacity="0.17"/>
<rect x="72.5" y="126.1" width="1" height="1" fill="#000" fill-opacity="0.17"/>
<rect x="88.2" y="139.2" width="1" height="1" fill="#000" fill-opacity="0.19"/>
<rect x="36.9" y="125.6" width="1" height="1" fill="#000" fill-opacity="0.47"/>
<rect x="45.2" y="122.2" width="1" height="1" fill="#000" fill-opacity="0.47"/>
<rect x="72.2" y="123.4" width="1" height="1" fill="#000" fill-opacity="0.20"/>
<rect x="38.5" y="134.7" width="1" height="1" fill="#000" fill-opacity="0.17"/>
<rect x="103.7" y="130.8" width="1" height="1" fill="#000" fill-opacity="0.18"/>
<rect x="55.7" y="128.7" width="1" height="1" fill="#000" fill-opacity="0.18"/>
<rect x="43.1" y="121.1" width="1" height="1" fill="#000" fill-opacity="0.46"/>
<rect x="87.5" y="132.6" width="1" height="1" fill="#000" fill-opacity="0.23"/>
<rect x="54.6" y="129.5" width="1" height="1" fill="#000" fill-opacity="0.50"/>
<rect x="41.8" y="144.1" width="1" height="1" fill="#000" fill-opacity="0.14"/>
<rect x="35.3" y="128.9" width="1" height="1" fill="#000" fill-opacity="0.17"/>
<rect x="34.2" y="134.0" width="1" height="1" fill="#000" fill-opacity="0.19"/>
<rect x="68.8" y="125.5" width="1" height="1" fill="#000" fill-opacity="0.34"/>
<rect x="45.0" y="140.7" width="1" height="1" fill="#000" fill-opacity="0.39"/>
<rect x="49.7" y="121.9" width="1" height="1" fill="#000" fill-opacity="0.35"/>
<rect x="73.6" y="125.2" width="1" height="1" fill="#000" fill-opacity="0.35"/>
<rect x="90.6" y="135.5" width="1" height="1" fill="#000" fill-opacity="0.20"/>
<rect x="39.3" y="130.7" width="1" height="1" fill="#000" fill-opacity="0.39"/>
<rect x="38.4" y="128.7" width="1" height="1" fill="#000" fill-opacity="0.44"/>
<rect x="35.2" y="132.6" width="1" height="1" fill="#000" fill-opacity="0.45"/>
<rect x="55.3" y="142.4" width="1" height="1" fill="#000" fill-opacity="0.26"/>
<rect x="47.1" y="135.9" width="1" height="1" fill="#000" fill-opacity="0.12"/>
<rect x="75.6" y="133.7" width="1" height="1" fill="#000" fill-opacity="0.17"/>
<rect x="59.7" y="130.0" width="1" height="1" fill="#000" fill-opacity="0.41"/>
<rect x="38.9" y="145.7" width="1" height="1" fill="#000" fill-opacity="0.31"/>
<rect x="75.1" y="134.3" width="1" height="1" fill="#000" fill-opacity="0.13"/>
<rect x="111.4" y="124.5" width="1" height="1" fill="#000" fill-opacity="0.16"/>
<rect x="54.0" y="120.3" width="1" height="1" fill="#000" fill-opacity="0.16"/>
<rect x="89.9" y="120.0" width="1" height="1" fill="#000" fill-opacity="0.35"/>
<rect x="80.1" y="138.8" width="1" height="1" fill="#000" fill-opacity="0.16"/>
<rect x="37.6" y="133.1" width="1" height="1" fill="#000" fill-opacity="0.31"/>
<rect x="56.4" y="130.7" width="1" height="1" fill="#000" fill-opacity="0.17"/>
<rect x="81.3" y="123.5" width="1" height="1" fill="#000" fill-opacity="0.34"/>
<rect x="67.6" y="134.0" width="1" height="1" fill="#000" fill-opacity="0.27"/>
<rect x="61.1" y="128.7" width="1" height="1" fill="#000" fill-opacity="0.29"/>
<rect x="101.8" y="133.7" width="1" height="1" fill="#000" fill-opacity="0.48"/>
<rect x="108.7" y="131.1" width="1" height="1" fill="#000" fill-opacity="0.36"/>
<rect x="63.2" y="121.4" width="1" height="1" fill="#000" fill-opacity="0.28"/>
<rect x="74.4" y="123.3" width="1" height="1" fill="#000" fill-opacity="0.49"/>
<rect x="104.8" y="137.1" width="1" height="1" fill="#000" fill-opacity="0.22"/>
<rect x="88.3" y="134.4" width="1" height="1" fill="#000" fill-opacity="0.47"/>
<rect x="83.7" y="133.8" width="1" height="1" fill="#000" fill-opacity="0.28"/>
<rect x="58.4" y="122.8" width="1" height="1" fill="#000" fill-opacity="0.35"/>
<rect x="55.5" y="134.2" width="1" height="1" fill="#000" fill-opacity="0.18"/>
<rect x="43.9" y="127.6" width="1" height="1" fill="#000" fill-opacity="0.27"/>
<rect x="57.1" y="121.9" width="1" height="1" fill="#000" fill-opacity="0.33"/>
<rect x="79.6" y="125.0" width="1" height="1" fill="#000" fill-opacity="0.39"/>
<rect x="70.9" y="136.4" width="1" height="1" fill="#000" fill-opacity="0.30"/>
<rect x="58.8" y="125.6" width="1" height="1" fill="#000" fill-opacity="0.31"/>
<rect x="64.7" y="119.8" width="1" height="1" fill="#000" fill-opacity="0.25"/>
<rect x="102.9" y="134.8" width="1" height="1" fill="#000" fill-opacity="0.31"/>
<rect x="56.8" y="127.6" width="1" height="1" fill="#000" fill-opacity="0.41"/>
<rect x="46.7" y="143.5" width="1" height="1" fill="#000" fill-opacity="0.29"/>
<rect x="39.0" y="131.6" width="1" height="1" fill="#000" fill-opacity="0.40"/>
<rect x="42.7" y="145.9" width="1" height="1" fill="#000" fill-opacity="0.40"/>
<rect x="46.4" y="129.2" width="1" height="1" fill="#000" fill-opacity="0.38"/>
<rect x="75.4" y="139.9" width="1" height="1" fill="#000" fill-opacity="0.41"/>
<rect x="72.0" y="139.0" width="1" height="1" fill="#000" fill-opacity="0.47"/>
<rect x="44.2" y="119.6" width="1" height="1" fill="#000" fill-opacity="0.41"/>
<rect x="79.8" y="141.1" width="1" height="1" fill="#000" fill-opacity="0.45"/>
<rect x="82.6" y="131.9" width="1" height="1" fill="#000" fill-opacity="0.29"/>
<rect x="91.8" y="130.2" width="1" height="1" fill="#000" fill-opacity="0.33"/>
<rect x="64.8" y="141.1" width="1" height="1" fill="#000" fill-opacity="0.44"/>
<rect x="74.0" y="124.6" width="1" height="1" fill="#000" fill-opacity="0.24"/>
<rect x="45.6" y="135.5" width="1" height="1" fill="#000" fill-opacity="0.15"/>
<rect x="50.3" y="144.5" width="1" height="1" fill="#000" fill-opacity="0.12"/>
<rect x="37.8" y="133.2" width="1" height="1" fill="#000" fill-opacity="0.47"/>
<rect x="75.4" y="138.3" width="1" height="1" fill="#000" fill-opacity="0.27"/>
<rect x="62.6" y="129.2" width="1" height="1" fill="#000" fill-opacity="0.48"/>
<rect x="88.1" y="122.2" width="1" height="1" fill="#000" fill-opacity="0.26"/>
<rect x="66.1" y="135.3" width="1" height="1" fill="#000" fill-opacity="0.45"/>
<rect x="61.5" y="141.9" width="1" height="1" fill="#000" fill-opacity="0.18"/>
<rect x="59.4" y="142.2" width="1" height="1" fill="#000" fill-opacity="0.31"/>
<rect x="42.8" y="138.5" width="1" height="1" fill="#000" fill-opacity="0.43"/>
<rect x="67.7" y="127.5" width="1" height="1" fill="#000" fill-opacity="0.31"/>
<rect x="74.4" y="124.5" width="1" height="1" fill="#000" fill-opacity="0.36"/>
<rect x="84.9" y="130.8" width="1" height="1" fill="#000" fill-opacity="0.42"/>
<rect x="58.5" y="119.6" width="1" height="1" fill="#000" fill-opacity="0.24"/>
<rect x="87.4" y="133.2" width="1" height="1" fill="#000" fill-opacity="0.33"/>
<rect x="55.3" y="134.1" width="1" height="1" fill="#000" fill-opacity="0.50"/>
<rect x="80.0" y="122.8" width="1" height="1" fill="#000" fill-opacity="0.18"/>
<rect x="94.8" y="122.3" width="1" height="1" fill="#000" fill-opacity="0.18"/>
<rect x="75.8" y="136.4" width="1" height="1" fill="#000" fill-opacity="0.43"/>
<rect x="39.0" y="140.7" width="1" height="1" fill="#000" fill-opacity="0.24"/>
<rect x="91.2" y="124.2" width="1" height="1" fill="#000" fill-opacity="0.22"/>
<rect x="42.0" y="135.5" width="1" height="1" fill="#000" fill-opacity="0.25"/>
<rect x="70.0" y="121.0" width="1" height="1" fill="#000" fill-opacity="0.46"/>
<rect x="80.6" y="131.6" width="1" height="1" fill="#000" fill-opacity="0.36"/>
<rect x="53.9" y="145.1" width="1" height="1" fill="#000" fill-opacity="0.44"/>
<rect x="59.2" y="141.9" width="1" height="1" fill="#000" fill-opacity="0.24"/>
<rect x="82.2" y="133.1" width="1" height="1" fill="#000" fill-opacity="0.48"/>
<rect x="53.4" y="139.3" width="1" height="1" fill="#000" fill-opacity="0.20"/>
<rect x="58.7" y="132.8" width="1" height="1" fill="#000" fill-opacity="0.42"/>
<rect x="53.5" y="129.4" width="1" height="1" fill="#000" fill-opacity="0.19"/>
<rect x="78.9" y="134.2" width="1" height="1" fill="#000" fill-opacity="0.27"/>
<rect x="66.3" y="122.9" width="1" height="1" fill="#000" fill-opacity="0.43"/>
<rect x="62.1" y="124.8" width="1" height="1" fill="#000" fill-opacity="0.23"/>
<rect x="53.0" y="137.8" width="1" height="1" fill="#000" fill-opacity="0.25"/>
<rect x="46.5" y="122.0" width="1" height="1" fill="#000" fill-opacity="0.22"/>
<rect x="100.8" y="131.7" width="1" height="1" fill="#000" fill-opacity="0.44"/>
<rect x="98.4" y="129.2" width="1" height="1" fill="#000" fill-opacity="0.39"/>
<rect x="64.2" y="125.2" width="1" height="1" fill="#000" fill-opacity="0.48"/>
<rect x="74.4" y="131.9" width="1" height="1" fill="#000" fill-opacity="0.17"/>
<rect x="81.0" y="126.3" width="1" height="1" fill="#000" fill-opacity="0.35"/>
<rect x="51.0" y="122.9" width="1" height="1" fill="#000" fill-opacity="0.31"/>
<rect x="77.4" y="140.7" width="1" height="1" fill="#000" fill-opacity="0.27"/>
<rect x="86.6" y="128.0" width="1" height="1" fill="#000" fill-opacity="0.27"/>
<rect x="40.9" y="142.9" width="1" height="1" fill="#000" fill-opacity="0.24"/>
<rect x="87.0" y="135.0" width="1" height="1" fill="#000" fill-opacity="0.26"/>
<rect x="74.0" y="121.3" width="1" height="1" fill="#000" fill-opacity="0.24"/>
<rect x="52.1" y="139.2" width="1" height="1" fill="#000" fill-opacity="0.23"/>
<rect x="66.3" y="140.8" width="1" height="1" fill="#000" fill-opacity="0.46"/>
<rect x="102.9" y="127.1" width="1" height="1" fill="#000" fill-opacity="0.13"/>
<rect x="88.4" y="129.2" width="1" height="1" fill="#000" fill-opacity="0.28"/>
<rect x="86.7" y="126.3" width="1" height="1" fill="#000" fill-opacity="0.44"/>
<rect x="62.2" y="124.5" width="1" height="1" fill="#000" fill-opacity="0.16"/>
<rect x="91.0" y="120.6" width="1" height="1" fill="#000" fill-opacity="0.18"/>
<rect x="49.8" y="130.0" width="1" height="1" fill="#000" fill-opacity="0.13"/>
<rect x="58.9" y="124.4" width="1" height="1" fill="#000" fill-opacity="0.44"/>
<rect x="79.6" y="126.5" width="1" height="1" fill="#000" fill-opacity="0.29"/>
<rect x="88.7" y="119.5" width="1" height="1" fill="#000" fill-opacity="0.44"/>
<rect x="96.1" y="120.7" width="1" height="1" fill="#000" fill-opacity="0.44"/>
<rect x="82.6" y="126.2" width="1" height="1" fill="#000" fill-opacity="0.16"/>
<rect x="94.0" y="138.6" width="1" height="1" fill="#000" fill-opacity="0.27"/>
<rect x="56.5" y="145.5" width="1" height="1" fill="#000" fill-opacity="0.28"/>
<rect x="84.2" y="121.0" width="1" height="1" fill="#000" fill-opacity="0.39"/>
<rect x="44.2" y="120.7" width="1" height="1" fill="#000" fill-opacity="0.39"/>
<rect x="98.5" y="134.5" width="1" height="1" fill="#000" fill-opacity="0.49"/>
<rect x="85.0" y="126.4" width="1" height="1" fill="#000" fill-opacity="0.14"/>
<rect x="62.6" y="125.0" width="1" height="1" fill="#000" fill-opacity="0.24"/>
<rect x="44.9" y="137.9" width="1" height="1" fill="#000" fill-opacity="0.21"/>
<rect x="53.3" y="131.7" width="1" height="1" fill="#000" fill-opacity="0.48"/>
<rect x="45.4" y="128.7" width="1" height="1" fill="#000" fill-opacity="0.43"/>
<rect x="77.9" y="124.2" width="1" height="1" fill="#000" fill-opacity="0.37"/>
<rect x="81.9" y="140.6" width="1" height="1" fill="#000" fill-opacity="0.44"/>
<rect x="43.2" y="129.4" width="1" height="1" fill="#000" fill-opacity="0.20"/>
<rect x="38.8" y="124.9" width="1" height="1" fill="#000" fill-opacity="0.39"/>
<rect x="69.8" y="128.4" width="1" height="1" fill="#000" fill-opacity="0.30"/>
<rect x="63.0" y="121.5" width="1" height="1" fill="#000" fill-opacity="0.12"/>
<rect x="40.7" y="146.5" width="1" height="1" fill="#000" fill-opacity="0.33"/>
<rect x="42.7" y="131.4" width="1" height="1" fill="#000" fill-opacity="0.19"/>
<rect x="86.2" y="126.3" width="1" height="1" fill="#000" fill-opacity="0.17"/>
<rect x="36.2" y="142.6" width="1" height="1" fill="#000" fill-opacity="0.23"/>
<rect x="48.9" y="142.8" width="1" height="1" fill="#000" fill-opacity="0.47"/>
<rect x="47.5" y="142.3" width="1" height="1" fill="#000" fill-opacity="0.40"/>
<rect x="60.1" y="142.2" width="1" height="1" fill="#000" fill-opacity="0.24"/>
<rect x="63.5" y="129.7" width="1" height="1" fill="#000" fill-opacity="0.44"/>
<rect x="53.2" y="135.1" width="1" height="1" fill="#000" fill-opacity="0.36"/>
<rect x="73.6" y="123.8" width="1" height="1" fill="#000" fill-opacity="0.23"/>
<rect x="80.5" y="138.4" width="1" height="1" fill="#000" fill-opacity="0.18"/>
<rect x="69.5" y="122.0" width="1" height="1" fill="#000" fill-opacity="0.14"/>
<rect x="69.2" y="139.4" width="1" height="1" fill="#000" fill-opacity="0.12"/>
<rect x="97.0" y="127.3" width="1" height="1" fill="#000" fill-opacity="0.37"/>
<rect x="75.2" y="128.8" width="1" height="1" fill="#000" fill-opacity="0.29"/>
<ellipse cx="47" cy="150.3" rx="5.5" ry="2.6" transform="rotate(-16 47 150.3)" fill="#333"/>
<ellipse cx="46.5" cy="150" rx="9.8" ry="4.8" transform="rotate(-16 46.5 150)" fill="none" stroke="#111" stroke-width="1" stroke-opacity="0.95"/>
<ellipse cx="46.5" cy="150" rx="7.2" ry="3.5" transform="rotate(-16 46.5 150)" fill="none" stroke="#111" stroke-width="1" stroke-opacity="0.8"/>
<ellipse cx="46.5" cy="150" rx="4.8" ry="2.4" transform="rotate(-16 46.5 150)" fill="none" stroke="#111" stroke-width="1" stroke-opacity="0.8"/>
<ellipse cx="46.5" cy="150" rx="2.6" ry="1.3" transform="rotate(-16 46.5 150)" fill="none" stroke="#111" stroke-width="1" stroke-opacity="0.8"/>
<ellipse cx="66.5" cy="136.5" rx="3" ry="2.3" fill="none" stroke="#555" stroke-width="0.8" stroke-opacity="0.7"/>
<rect x="13.5" y="265" width="102.0" height="101.5" fill="none" stroke="#6a6a6a" stroke-width="1.2"/>
<text transform="translate(10.5,293) rotate(-90)" font-family="Liberation Sans, sans-serif" font-size="10.3" fill="#000" stroke="#000" stroke-width="0.2">1023</text>
<text transform="translate(10.5,369.0) rotate(-90)" font-family="Liberation Sans, sans-serif" font-size="10.3" fill="#000" stroke="#000" stroke-width="0.2">0</text>
<text x="14.2" y="378.0" text-anchor="middle" font-family="Liberation Sans, sans-serif" font-size="10.3" fill="#000" stroke="#000" stroke-width="0.2">0</text>
<text x="116.5" y="378.0" text-anchor="end" font-family="Liberation Sans, sans-serif" font-size="10.3" fill="#000" stroke="#000" stroke-width="0.2">1023</text>
<rect x="34.0" y="350.3" width="1" height="1" fill="#000" fill-opacity="0.95"/>
<rect x="40.6" y="358.5" width="1" height="1" fill="#000" fill-opacity="0.72"/>
<rect x="34.4" y="354.7" width="1" height="1" fill="#000" fill-opacity="0.60"/>
<rect x="42.2" y="357.6" width="1" height="1" fill="#000" fill-opacity="0.73"/>
<rect x="48.8" y="354.6" width="1" height="1" fill="#000" fill-opacity="0.93"/>
<rect x="50.6" y="354.6" width="1" height="1" fill="#000" fill-opacity="0.81"/>
<rect x="39.1" y="354.9" width="1" height="1" fill="#000" fill-opacity="0.84"/>
<rect x="35.4" y="354.1" width="1" height="1" fill="#000" fill-opacity="0.79"/>
<rect x="43.8" y="354.8" width="1" height="1" fill="#000" fill-opacity="0.82"/>
<rect x="37.2" y="359.1" width="1" height="1" fill="#000" fill-opacity="0.94"/>
<rect x="41.6" y="356.4" width="1" height="1" fill="#000" fill-opacity="0.84"/>
<rect x="36.6" y="356.5" width="1" height="1" fill="#000" fill-opacity="0.83"/>
<rect x="34.1" y="359.3" width="1" height="1" fill="#000" fill-opacity="0.71"/>
<rect x="32.4" y="355.2" width="1" height="1" fill="#000" fill-opacity="0.70"/>
<rect x="40.8" y="357.5" width="1" height="1" fill="#000" fill-opacity="0.94"/>
<rect x="36.3" y="355.5" width="1" height="1" fill="#000" fill-opacity="0.93"/>
<rect x="38.5" y="357.6" width="1" height="1" fill="#000" fill-opacity="0.77"/>
<rect x="38.4" y="360.1" width="1" height="1" fill="#000" fill-opacity="0.78"/>
<rect x="39.4" y="360.5" width="1" height="1" fill="#000" fill-opacity="0.56"/>
<rect x="32.1" y="355.6" width="1" height="1" fill="#000" fill-opacity="0.54"/>
<rect x="36.9" y="356.7" width="1" height="1" fill="#000" fill-opacity="0.72"/>
<rect x="42.5" y="352.7" width="1" height="1" fill="#000" fill-opacity="0.86"/>
<rect x="38.6" y="354.3" width="1" height="1" fill="#000" fill-opacity="1.00"/>
<rect x="38.1" y="354.4" width="1" height="1" fill="#000" fill-opacity="0.92"/>
<rect x="36.2" y="357.3" width="1" height="1" fill="#000" fill-opacity="0.98"/>
<rect x="30.9" y="353.7" width="1" height="1" fill="#000" fill-opacity="0.57"/>
<rect x="38.8" y="354.8" width="1" height="1" fill="#000" fill-opacity="0.62"/>
<rect x="37.9" y="356.4" width="1" height="1" fill="#000" fill-opacity="0.80"/>
<rect x="39.4" y="358.9" width="1" height="1" fill="#000" fill-opacity="0.85"/>
<rect x="29.5" y="359.3" width="1" height="1" fill="#000" fill-opacity="0.81"/>
<rect x="42.8" y="352.8" width="1" height="1" fill="#000" fill-opacity="0.96"/>
<rect x="40.5" y="354.5" width="1" height="1" fill="#000" fill-opacity="0.87"/>
<rect x="34.1" y="361.0" width="1" height="1" fill="#000" fill-opacity="0.84"/>
<rect x="39.6" y="354.4" width="1" height="1" fill="#000" fill-opacity="0.69"/>
<rect x="37.6" y="347.5" width="1" height="1" fill="#000" fill-opacity="0.86"/>
<rect x="44.8" y="357.3" width="1" height="1" fill="#000" fill-opacity="0.55"/>
<rect x="30.3" y="354.1" width="1" height="1" fill="#000" fill-opacity="0.56"/>
<rect x="44.9" y="353.6" width="1" height="1" fill="#000" fill-opacity="0.63"/>
<rect x="40.3" y="359.6" width="1" height="1" fill="#000" fill-opacity="0.92"/>
<rect x="36.4" y="355.2" width="1" height="1" fill="#000" fill-opacity="0.51"/>
<rect x="45.1" y="360.0" width="1" height="1" fill="#000" fill-opacity="0.59"/>
<rect x="34.8" y="355.0" width="1" height="1" fill="#000" fill-opacity="0.84"/>
<rect x="36.5" y="357.3" width="1" height="1" fill="#000" fill-opacity="0.94"/>
<rect x="31.4" y="354.7" width="1" height="1" fill="#000" fill-opacity="0.90"/>
<rect x="39.3" y="355.8" width="1" height="1" fill="#000" fill-opacity="0.67"/>
<rect x="41.8" y="359.4" width="1" height="1" fill="#000" fill-opacity="0.94"/>
<rect x="38.9" y="355.1" width="1" height="1" fill="#000" fill-opacity="0.59"/>
<rect x="41.5" y="351.2" width="1" height="1" fill="#000" fill-opacity="0.70"/>
<rect x="35.7" y="356.3" width="1" height="1" fill="#000" fill-opacity="0.92"/>
<rect x="30.9" y="360.4" width="1" height="1" fill="#000" fill-opacity="0.81"/>
<rect x="42.3" y="357.4" width="1" height="1" fill="#000" fill-opacity="0.61"/>
<rect x="43.5" y="353.1" width="1" height="1" fill="#000" fill-opacity="0.52"/>
<rect x="40.7" y="358.9" width="1" height="1" fill="#000" fill-opacity="0.73"/>
<rect x="34.3" y="354.4" width="1" height="1" fill="#000" fill-opacity="0.68"/>
<rect x="44.8" y="356.2" width="1" height="1" fill="#000" fill-opacity="0.67"/>
<rect x="43.8" y="356.5" width="1" height="1" fill="#000" fill-opacity="0.99"/>
<rect x="41.1" y="356.6" width="1" height="1" fill="#000" fill-opacity="0.84"/>
<rect x="38.0" y="358.8" width="1" height="1" fill="#000" fill-opacity="0.75"/>
<rect x="38.0" y="360.5" width="1" height="1" fill="#000" fill-opacity="0.76"/>
<rect x="52.9" y="353.1" width="1" height="1" fill="#000" fill-opacity="0.52"/>
<rect x="30.9" y="353.8" width="1" height="1" fill="#000" fill-opacity="0.94"/>
<rect x="39.5" y="351.1" width="1" height="1" fill="#000" fill-opacity="0.82"/>
<rect x="36.0" y="358.2" width="1" height="1" fill="#000" fill-opacity="0.90"/>
<rect x="46.4" y="350.1" width="1" height="1" fill="#000" fill-opacity="0.84"/>
<rect x="35.8" y="361.6" width="1" height="1" fill="#000" fill-opacity="0.87"/>
<rect x="31.7" y="355.7" width="1" height="1" fill="#000" fill-opacity="0.68"/>
<rect x="33.8" y="354.9" width="1" height="1" fill="#000" fill-opacity="0.53"/>
<rect x="36.3" y="358.6" width="1" height="1" fill="#000" fill-opacity="0.99"/>
<rect x="33.9" y="356.4" width="1" height="1" fill="#000" fill-opacity="0.62"/>
<rect x="38.9" y="359.2" width="1" height="1" fill="#000" fill-opacity="0.57"/>
<rect x="48.2" y="356.3" width="1" height="1" fill="#000" fill-opacity="0.73"/>
<rect x="32.6" y="357.5" width="1" height="1" fill="#000" fill-opacity="0.65"/>
<rect x="39.4" y="357.1" width="1" height="1" fill="#000" fill-opacity="0.65"/>
<rect x="35.7" y="361.3" width="1" height="1" fill="#000" fill-opacity="0.78"/>
<rect x="42.5" y="354.8" width="1" height="1" fill="#000" fill-opacity="0.96"/>
<rect x="36.8" y="355.3" width="1" height="1" fill="#000" fill-opacity="0.59"/>
<rect x="26.1" y="351.0" width="1" height="1" fill="#000" fill-opacity="0.68"/>
<rect x="39.3" y="352.3" width="1" height="1" fill="#000" fill-opacity="0.93"/>
<rect x="43.5" y="357.7" width="1" height="1" fill="#000" fill-opacity="0.95"/>
<rect x="37.9" y="358.7" width="1" height="1" fill="#000" fill-opacity="0.51"/>
<rect x="40.4" y="358.4" width="1" height="1" fill="#000" fill-opacity="0.85"/>
<rect x="39.5" y="359.5" width="1" height="1" fill="#000" fill-opacity="0.60"/>
<rect x="30.8" y="351.8" width="1" height="1" fill="#000" fill-opacity="0.82"/>
<rect x="41.1" y="361.4" width="1" height="1" fill="#000" fill-opacity="0.98"/>
<rect x="36.9" y="355.2" width="1" height="1" fill="#000" fill-opacity="0.90"/>
<rect x="41.6" y="353.7" width="1" height="1" fill="#000" fill-opacity="0.57"/>
<rect x="40.8" y="360.0" width="1" height="1" fill="#000" fill-opacity="0.94"/>
<rect x="31.6" y="349.9" width="1" height="1" fill="#000" fill-opacity="0.61"/>
<rect x="34.8" y="361.2" width="1" height="1" fill="#000" fill-opacity="0.82"/>
<rect x="32.5" y="359.0" width="1" height="1" fill="#000" fill-opacity="0.67"/>
<rect x="43.1" y="357.3" width="1" height="1" fill="#000" fill-opacity="0.52"/>
<rect x="35.5" y="353.7" width="1" height="1" fill="#000" fill-opacity="0.75"/>
<rect x="35.5" y="354.4" width="1" height="1" fill="#000" fill-opacity="0.73"/>
<rect x="49.4" y="356.7" width="1" height="1" fill="#000" fill-opacity="0.78"/>
<rect x="40.1" y="355.9" width="1" height="1" fill="#000" fill-opacity="0.81"/>
<rect x="37.8" y="352.9" width="1" height="1" fill="#000" fill-opacity="0.55"/>
<rect x="40.0" y="357.6" width="1" height="1" fill="#000" fill-opacity="0.88"/>
<rect x="45.9" y="359.4" width="1" height="1" fill="#000" fill-opacity="0.71"/>
<rect x="32.3" y="354.9" width="1" height="1" fill="#000" fill-opacity="0.78"/>
<rect x="34.9" y="352.0" width="1" height="1" fill="#000" fill-opacity="0.67"/>
<rect x="38.3" y="353.3" width="1" height="1" fill="#000" fill-opacity="0.86"/>
<rect x="39.2" y="350.0" width="1" height="1" fill="#000" fill-opacity="0.65"/>
<rect x="40.4" y="346.5" width="1" height="1" fill="#000" fill-opacity="0.73"/>
<rect x="37.5" y="360.2" width="1" height="1" fill="#000" fill-opacity="0.97"/>
<rect x="38.9" y="356.3" width="1" height="1" fill="#000" fill-opacity="0.74"/>
<rect x="33.9" y="351.0" width="1" height="1" fill="#000" fill-opacity="0.68"/>
<rect x="41.9" y="355.8" width="1" height="1" fill="#000" fill-opacity="0.88"/>
<rect x="39.5" y="356.4" width="1" height="1" fill="#000" fill-opacity="0.57"/>
<rect x="43.8" y="357.5" width="1" height="1" fill="#000" fill-opacity="0.78"/>
<rect x="43.2" y="363.5" width="1" height="1" fill="#000" fill-opacity="0.68"/>
<rect x="40.3" y="357.8" width="1" height="1" fill="#000" fill-opacity="0.87"/>
<rect x="41.0" y="355.0" width="1" height="1" fill="#000" fill-opacity="0.51"/>
<rect x="39.1" y="353.4" width="1" height="1" fill="#000" fill-opacity="0.99"/>
<rect x="31.7" y="356.0" width="1" height="1" fill="#000" fill-opacity="0.67"/>
<rect x="40.2" y="352.3" width="1" height="1" fill="#000" fill-opacity="0.66"/>
<rect x="40.4" y="355.0" width="1" height="1" fill="#000" fill-opacity="0.87"/>
<rect x="44.8" y="358.0" width="1" height="1" fill="#000" fill-opacity="0.70"/>
<rect x="39.6" y="355.1" width="1" height="1" fill="#000" fill-opacity="0.78"/>
<rect x="29.4" y="360.2" width="1" height="1" fill="#000" fill-opacity="0.97"/>
<rect x="36.1" y="354.2" width="1" height="1" fill="#000" fill-opacity="0.63"/>
<rect x="38.1" y="359.7" width="1" height="1" fill="#000" fill-opacity="0.62"/>
<rect x="40.8" y="361.7" width="1" height="1" fill="#000" fill-opacity="0.82"/>
<rect x="36.0" y="355.1" width="1" height="1" fill="#000" fill-opacity="0.93"/>
<rect x="41.1" y="354.0" width="1" height="1" fill="#000" fill-opacity="0.88"/>
<rect x="40.2" y="353.4" width="1" height="1" fill="#000" fill-opacity="0.67"/>
<rect x="28.4" y="356.7" width="1" height="1" fill="#000" fill-opacity="0.58"/>
<rect x="35.8" y="351.7" width="1" height="1" fill="#000" fill-opacity="0.73"/>
<rect x="29.8" y="352.5" width="1" height="1" fill="#000" fill-opacity="0.60"/>
<rect x="41.9" y="353.8" width="1" height="1" fill="#000" fill-opacity="0.89"/>
<rect x="40.5" y="354.3" width="1" height="1" fill="#000" fill-opacity="0.93"/>
<rect x="42.5" y="355.9" width="1" height="1" fill="#000" fill-opacity="0.51"/>
<rect x="48.4" y="362.1" width="1" height="1" fill="#000" fill-opacity="0.50"/>
<rect x="40.8" y="354.9" width="1" height="1" fill="#000" fill-opacity="0.87"/>
<rect x="40.9" y="357.2" width="1" height="1" fill="#000" fill-opacity="0.84"/>
<rect x="42.2" y="357.7" width="1" height="1" fill="#000" fill-opacity="0.96"/>
<rect x="36.4" y="348.9" width="1" height="1" fill="#000" fill-opacity="0.99"/>
<rect x="41.9" y="356.5" width="1" height="1" fill="#000" fill-opacity="0.90"/>
<rect x="38.0" y="355.1" width="1" height="1" fill="#000" fill-opacity="0.75"/>
<rect x="39.1" y="359.7" width="1" height="1" fill="#000" fill-opacity="0.55"/>
<rect x="53.1" y="357.3" width="1" height="1" fill="#000" fill-opacity="0.66"/>
<rect x="40.3" y="354.8" width="1" height="1" fill="#000" fill-opacity="0.74"/>
<rect x="41.8" y="358.8" width="1" height="1" fill="#000" fill-opacity="0.59"/>
<rect x="37.4" y="354.2" width="1" height="1" fill="#000" fill-opacity="0.87"/>
<rect x="36.2" y="356.0" width="1" height="1" fill="#000" fill-opacity="0.68"/>
<rect x="27.7" y="356.2" width="1" height="1" fill="#000" fill-opacity="0.67"/>
<rect x="41.2" y="364.9" width="1" height="1" fill="#000" fill-opacity="0.94"/>
<rect x="38.1" y="353.2" width="1" height="1" fill="#000" fill-opacity="0.59"/>
<rect x="38.3" y="357.3" width="1" height="1" fill="#000" fill-opacity="0.52"/>
<rect x="33.6" y="355.8" width="1" height="1" fill="#000" fill-opacity="0.78"/>
<rect x="38.0" y="356.4" width="1" height="1" fill="#000" fill-opacity="0.84"/>
<rect x="35.1" y="352.4" width="1" height="1" fill="#000" fill-opacity="0.77"/>
<rect x="33.5" y="346.7" width="1" height="1" fill="#000" fill-opacity="0.94"/>
<rect x="37.5" y="352.5" width="1" height="1" fill="#000" fill-opacity="0.66"/>
<rect x="27.2" y="360.6" width="1" height="1" fill="#000" fill-opacity="0.69"/>
<rect x="34.8" y="358.4" width="1" height="1" fill="#000" fill-opacity="0.57"/>
<rect x="39.0" y="356.0" width="1" height="1" fill="#000" fill-opacity="0.80"/>
<rect x="41.8" y="354.8" width="1" height="1" fill="#000" fill-opacity="0.81"/>
<rect x="35.9" y="357.8" width="1" height="1" fill="#000" fill-opacity="0.60"/>
<rect x="45.4" y="360.5" width="1" height="1" fill="#000" fill-opacity="0.89"/>
<rect x="39.8" y="355.4" width="1" height="1" fill="#000" fill-opacity="0.85"/>
<rect x="35.4" y="360.5" width="1" height="1" fill="#000" fill-opacity="0.77"/>
<rect x="33.4" y="364.6" width="1" height="1" fill="#000" fill-opacity="0.50"/>
<rect x="38.3" y="349.1" width="1" height="1" fill="#000" fill-opacity="0.76"/>
<rect x="25.5" y="349.8" width="1" height="1" fill="#000" fill-opacity="0.62"/>
<rect x="33.1" y="351.8" width="1" height="1" fill="#000" fill-opacity="0.69"/>
<rect x="37.4" y="352.6" width="1" height="1" fill="#000" fill-opacity="0.76"/>
<rect x="33.0" y="352.6" width="1" height="1" fill="#000" fill-opacity="0.66"/>
<rect x="34.4" y="352.8" width="1" height="1" fill="#000" fill-opacity="0.61"/>
<rect x="35.6" y="354.2" width="1" height="1" fill="#000" fill-opacity="0.95"/>
<rect x="30.9" y="356.9" width="1" height="1" fill="#000" fill-opacity="0.76"/>
<rect x="35.1" y="356.4" width="1" height="1" fill="#000" fill-opacity="0.57"/>
<rect x="43.8" y="354.1" width="1" height="1" fill="#000" fill-opacity="0.76"/>
<rect x="29.8" y="354.9" width="1" height="1" fill="#000" fill-opacity="0.62"/>
<rect x="42.7" y="361.7" width="1" height="1" fill="#000" fill-opacity="0.73"/>
<rect x="32.8" y="350.9" width="1" height="1" fill="#000" fill-opacity="0.95"/>
<rect x="39.5" y="355.2" width="1" height="1" fill="#000" fill-opacity="0.69"/>
<rect x="42.9" y="350.4" width="1" height="1" fill="#000" fill-opacity="0.56"/>
<rect x="40.6" y="358.2" width="1" height="1" fill="#000" fill-opacity="0.55"/>
<rect x="33.1" y="360.9" width="1" height="1" fill="#000" fill-opacity="0.76"/>
<rect x="36.5" y="356.4" width="1" height="1" fill="#000" fill-opacity="0.70"/>
<rect x="45.9" y="355.9" width="1" height="1" fill="#000" fill-opacity="0.72"/>
<rect x="30.0" y="356.8" width="1" height="1" fill="#000" fill-opacity="0.88"/>
<rect x="42.8" y="360.3" width="1" height="1" fill="#000" fill-opacity="0.68"/>
<rect x="35.0" y="355.7" width="1" height="1" fill="#000" fill-opacity="0.69"/>
<rect x="36.0" y="358.9" width="1" height="1" fill="#000" fill-opacity="0.51"/>
<rect x="40.4" y="360.3" width="1" height="1" fill="#000" fill-opacity="0.53"/>
<rect x="41.8" y="361.0" width="1" height="1" fill="#000" fill-opacity="0.64"/>
<rect x="36.9" y="358.3" width="1" height="1" fill="#000" fill-opacity="0.92"/>
<rect x="44.2" y="358.7" width="1" height="1" fill="#000" fill-opacity="0.93"/>
<rect x="40.0" y="359.5" width="1" height="1" fill="#000" fill-opacity="0.90"/>
<rect x="35.1" y="353.7" width="1" height="1" fill="#000" fill-opacity="0.52"/>
<rect x="34.2" y="357.2" width="1" height="1" fill="#000" fill-opacity="0.86"/>
<rect x="37.1" y="359.4" width="1" height="1" fill="#000" fill-opacity="0.82"/>
<rect x="40.2" y="353.0" width="1" height="1" fill="#000" fill-opacity="0.69"/>
<rect x="28.9" y="352.2" width="1" height="1" fill="#000" fill-opacity="0.60"/>
<rect x="46.0" y="355.0" width="1" height="1" fill="#000" fill-opacity="0.69"/>
<rect x="36.3" y="353.3" width="1" height="1" fill="#000" fill-opacity="0.54"/>
<rect x="38.7" y="352.6" width="1" height="1" fill="#000" fill-opacity="0.76"/>
<rect x="28.2" y="356.2" width="1" height="1" fill="#000" fill-opacity="0.88"/>
<rect x="44.9" y="356.8" width="1" height="1" fill="#000" fill-opacity="0.73"/>
<rect x="29.6" y="357.6" width="1" height="1" fill="#000" fill-opacity="0.71"/>
<rect x="28.5" y="357.2" width="1" height="1" fill="#000" fill-opacity="0.72"/>
<rect x="32.8" y="356.2" width="1" height="1" fill="#000" fill-opacity="0.91"/>
<rect x="34.7" y="351.0" width="1" height="1" fill="#000" fill-opacity="0.70"/>
<rect x="45.5" y="357.3" width="1" height="1" fill="#000" fill-opacity="0.78"/>
<rect x="39.5" y="350.0" width="1" height="1" fill="#000" fill-opacity="0.56"/>
<rect x="38.9" y="357.4" width="1" height="1" fill="#000" fill-opacity="0.91"/>
<rect x="40.2" y="356.9" width="1" height="1" fill="#000" fill-opacity="0.88"/>
<rect x="37.0" y="355.5" width="1" height="1" fill="#000" fill-opacity="0.84"/>
<rect x="37.2" y="352.1" width="1" height="1" fill="#000" fill-opacity="0.53"/>
<rect x="36.7" y="352.6" width="1" height="1" fill="#000" fill-opacity="0.79"/>
<rect x="47.3" y="355.9" width="1" height="1" fill="#000" fill-opacity="0.94"/>
<rect x="41.1" y="358.5" width="1" height="1" fill="#000" fill-opacity="0.76"/>
<rect x="52.9" y="356.4" width="1" height="1" fill="#000" fill-opacity="0.64"/>
<rect x="38.2" y="359.0" width="1" height="1" fill="#000" fill-opacity="0.63"/>
<rect x="42.4" y="352.5" width="1" height="1" fill="#000" fill-opacity="0.76"/>
<rect x="37.1" y="356.5" width="1" height="1" fill="#000" fill-opacity="0.65"/>
<rect x="44.3" y="351.3" width="1" height="1" fill="#000" fill-opacity="0.93"/>
<rect x="38.4" y="358.3" width="1" height="1" fill="#000" fill-opacity="0.53"/>
<rect x="34.0" y="355.2" width="1" height="1" fill="#000" fill-opacity="0.73"/>
<rect x="32.2" y="356.3" width="1" height="1" fill="#000" fill-opacity="0.68"/>
<rect x="39.5" y="353.8" width="1" height="1" fill="#000" fill-opacity="0.96"/>
<rect x="37.0" y="355.6" width="1" height="1" fill="#000" fill-opacity="0.66"/>
<rect x="33.7" y="355.3" width="1" height="1" fill="#000" fill-opacity="0.78"/>
<rect x="36.8" y="358.5" width="1" height="1" fill="#000" fill-opacity="0.90"/>
<rect x="36.5" y="361.3" width="1" height="1" fill="#000" fill-opacity="0.90"/>
<rect x="34.1" y="353.9" width="1" height="1" fill="#000" fill-opacity="0.97"/>
<rect x="29.2" y="358.4" width="1" height="1" fill="#000" fill-opacity="0.53"/>
<rect x="32.2" y="358.0" width="1" height="1" fill="#000" fill-opacity="0.52"/>
<rect x="39.7" y="355.0" width="1" height="1" fill="#000" fill-opacity="0.80"/>
<rect x="43.1" y="363.2" width="1" height="1" fill="#000" fill-opacity="0.78"/>
<rect x="40.3" y="352.1" width="1" height="1" fill="#000" fill-opacity="0.84"/>
<rect x="36.7" y="353.4" width="1" height="1" fill="#000" fill-opacity="0.61"/>
<rect x="39.9" y="354.3" width="1" height="1" fill="#000" fill-opacity="0.96"/>
<rect x="39.1" y="357.6" width="1" height="1" fill="#000" fill-opacity="0.55"/>
<rect x="41.0" y="347.6" width="1" height="1" fill="#000" fill-opacity="0.71"/>
<rect x="36.5" y="353.7" width="1" height="1" fill="#000" fill-opacity="0.95"/>
<rect x="37.4" y="354.1" width="1" height="1" fill="#000" fill-opacity="0.53"/>
<rect x="38.0" y="355.0" width="1" height="1" fill="#000" fill-opacity="0.92"/>
<rect x="37.6" y="358.5" width="1" height="1" fill="#000" fill-opacity="0.79"/>
<rect x="35.9" y="360.1" width="1" height="1" fill="#000" fill-opacity="0.58"/>
<rect x="42.1" y="354.4" width="1" height="1" fill="#000" fill-opacity="0.92"/>
<rect x="43.5" y="361.1" width="1" height="1" fill="#000" fill-opacity="0.99"/>
<rect x="37.5" y="356.6" width="1" height="1" fill="#000" fill-opacity="0.69"/>
<rect x="36.3" y="354.1" width="1" height="1" fill="#000" fill-opacity="0.77"/>
<rect x="43.0" y="358.2" width="1" height="1" fill="#000" fill-opacity="0.86"/>
<rect x="32.0" y="358.3" width="1" height="1" fill="#000" fill-opacity="0.56"/>
<rect x="39.7" y="354.4" width="1" height="1" fill="#000" fill-opacity="0.96"/>
<rect x="49.9" y="355.8" width="1" height="1" fill="#000" fill-opacity="0.76"/>
<rect x="37.4" y="359.1" width="1" height="1" fill="#000" fill-opacity="0.88"/>
<rect x="27.4" y="356.2" width="1" height="1" fill="#000" fill-opacity="0.55"/>
<rect x="29.0" y="356.7" width="1" height="1" fill="#000" fill-opacity="0.80"/>
<rect x="36.5" y="355.6" width="1" height="1" fill="#000" fill-opacity="0.57"/>
<rect x="37.2" y="363.3" width="1" height="1" fill="#000" fill-opacity="0.92"/>
<rect x="40.1" y="363.9" width="1" height="1" fill="#000" fill-opacity="0.52"/>
<rect x="28.3" y="350.7" width="1" height="1" fill="#000" fill-opacity="0.67"/>
<rect x="45.1" y="354.2" width="1" height="1" fill="#000" fill-opacity="0.53"/>
<rect x="35.9" y="359.3" width="1" height="1" fill="#000" fill-opacity="0.62"/>
<rect x="38.4" y="353.8" width="1" height="1" fill="#000" fill-opacity="0.89"/>
<rect x="43.0" y="345.9" width="1" height="1" fill="#000" fill-opacity="0.56"/>
<rect x="53.4" y="348.7" width="1" height="1" fill="#000" fill-opacity="0.68"/>
<rect x="35.7" y="338.0" width="1" height="1" fill="#000" fill-opacity="0.27"/>
<rect x="39.9" y="342.7" width="1" height="1" fill="#000" fill-opacity="0.61"/>
<rect x="52.0" y="350.7" width="1" height="1" fill="#000" fill-opacity="0.44"/>
<rect x="34.6" y="351.4" width="1" height="1" fill="#000" fill-opacity="0.34"/>
<rect x="54.4" y="359.7" width="1" height="1" fill="#000" fill-opacity="0.43"/>
<rect x="54.0" y="329.4" width="1" height="1" fill="#000" fill-opacity="0.51"/>
<rect x="46.4" y="345.9" width="1" height="1" fill="#000" fill-opacity="0.73"/>
<rect x="51.8" y="349.3" width="1" height="1" fill="#000" fill-opacity="0.54"/>
<rect x="51.5" y="349.1" width="1" height="1" fill="#000" fill-opacity="0.34"/>
<rect x="33.6" y="340.9" width="1" height="1" fill="#000" fill-opacity="0.45"/>
<rect x="47.0" y="350.7" width="1" height="1" fill="#000" fill-opacity="0.36"/>
<rect x="48.7" y="347.2" width="1" height="1" fill="#000" fill-opacity="0.73"/>
<rect x="25.1" y="342.8" width="1" height="1" fill="#000" fill-opacity="0.26"/>
<rect x="53.8" y="339.8" width="1" height="1" fill="#000" fill-opacity="0.69"/>
<rect x="31.6" y="337.8" width="1" height="1" fill="#000" fill-opacity="0.38"/>
<rect x="44.0" y="338.4" width="1" height="1" fill="#000" fill-opacity="0.40"/>
<rect x="52.8" y="344.5" width="1" height="1" fill="#000" fill-opacity="0.53"/>
<rect x="39.1" y="359.2" width="1" height="1" fill="#000" fill-opacity="0.30"/>
<rect x="38.2" y="340.2" width="1" height="1" fill="#000" fill-opacity="0.58"/>
<rect x="47.0" y="330.7" width="1" height="1" fill="#000" fill-opacity="0.28"/>
<rect x="44.3" y="353.8" width="1" height="1" fill="#000" fill-opacity="0.79"/>
<rect x="56.1" y="345.8" width="1" height="1" fill="#000" fill-opacity="0.63"/>
<rect x="47.3" y="336.3" width="1" height="1" fill="#000" fill-opacity="0.70"/>
<rect x="24.3" y="347.3" width="1" height="1" fill="#000" fill-opacity="0.26"/>
<rect x="52.6" y="340.0" width="1" height="1" fill="#000" fill-opacity="0.47"/>
<rect x="49.7" y="346.2" width="1" height="1" fill="#000" fill-opacity="0.65"/>
<rect x="41.8" y="338.9" width="1" height="1" fill="#000" fill-opacity="0.44"/>
<rect x="47.8" y="347.1" width="1" height="1" fill="#000" fill-opacity="0.37"/>
<rect x="32.0" y="362.1" width="1" height="1" fill="#000" fill-opacity="0.80"/>
<rect x="46.7" y="334.2" width="1" height="1" fill="#000" fill-opacity="0.52"/>
<rect x="47.6" y="325.8" width="1" height="1" fill="#000" fill-opacity="0.66"/>
<rect x="40.1" y="339.0" width="1" height="1" fill="#000" fill-opacity="0.59"/>
<rect x="53.0" y="331.4" width="1" height="1" fill="#000" fill-opacity="0.30"/>
<rect x="42.3" y="335.7" width="1" height="1" fill="#000" fill-opacity="0.34"/>
<rect x="57.1" y="340.4" width="1" height="1" fill="#000" fill-opacity="0.66"/>
<rect x="55.2" y="354.3" width="1" height="1" fill="#000" fill-opacity="0.77"/>
<rect x="56.3" y="335.6" width="1" height="1" fill="#000" fill-opacity="0.71"/>
<rect x="47.9" y="332.9" width="1" height="1" fill="#000" fill-opacity="0.49"/>
<rect x="51.2" y="330.5" width="1" height="1" fill="#000" fill-opacity="0.73"/>
<rect x="37.1" y="362.4" width="1" height="1" fill="#000" fill-opacity="0.54"/>
<rect x="48.2" y="341.7" width="1" height="1" fill="#000" fill-opacity="0.78"/>
<rect x="45.6" y="337.1" width="1" height="1" fill="#000" fill-opacity="0.71"/>
<rect x="44.7" y="348.3" width="1" height="1" fill="#000" fill-opacity="0.50"/>
<rect x="44.9" y="352.3" width="1" height="1" fill="#000" fill-opacity="0.75"/>
<rect x="38.4" y="331.4" width="1" height="1" fill="#000" fill-opacity="0.47"/>
<rect x="47.4" y="329.1" width="1" height="1" fill="#000" fill-opacity="0.63"/>
<rect x="59.7" y="337.6" width="1" height="1" fill="#000" fill-opacity="0.47"/>
<rect x="55.2" y="349.1" width="1" height="1" fill="#000" fill-opacity="0.71"/>
<rect x="37.5" y="352.1" width="1" height="1" fill="#000" fill-opacity="0.71"/>
<rect x="44.2" y="342.3" width="1" height="1" fill="#000" fill-opacity="0.52"/>
<rect x="48.3" y="343.4" width="1" height="1" fill="#000" fill-opacity="0.70"/>
<rect x="33.3" y="348.3" width="1" height="1" fill="#000" fill-opacity="0.50"/>
<rect x="40.8" y="347.8" width="1" height="1" fill="#000" fill-opacity="0.44"/>
<rect x="51.0" y="333.8" width="1" height="1" fill="#000" fill-opacity="0.41"/>
<rect x="50.1" y="346.3" width="1" height="1" fill="#000" fill-opacity="0.64"/>
<rect x="31.6" y="347.2" width="1" height="1" fill="#000" fill-opacity="0.69"/>
<rect x="53.9" y="351.3" width="1" height="1" fill="#000" fill-opacity="0.27"/>
<rect x="46.5" y="338.4" width="1" height="1" fill="#000" fill-opacity="0.40"/>
<rect x="52.2" y="341.0" width="1" height="1" fill="#000" fill-opacity="0.37"/>
<rect x="53.5" y="336.0" width="1" height="1" fill="#000" fill-opacity="0.74"/>
<rect x="35.7" y="348.8" width="1" height="1" fill="#000" fill-opacity="0.78"/>
<rect x="17.1" y="342.0" width="1" height="1" fill="#000" fill-opacity="0.35"/>
<rect x="46.6" y="338.8" width="1" height="1" fill="#000" fill-opacity="0.54"/>
<rect x="49.6" y="343.0" width="1" height="1" fill="#000" fill-opacity="0.77"/>
<rect x="28.3" y="347.1" width="1" height="1" fill="#000" fill-opacity="0.39"/>
<rect x="41.5" y="346.0" width="1" height="1" fill="#000" fill-opacity="0.55"/>
<rect x="51.0" y="335.7" width="1" height="1" fill="#000" fill-opacity="0.46"/>
<rect x="61.2" y="335.7" width="1" height="1" fill="#000" fill-opacity="0.62"/>
<rect x="55.2" y="348.1" width="1" height="1" fill="#000" fill-opacity="0.49"/>
<rect x="52.2" y="341.0" width="1" height="1" fill="#000" fill-opacity="0.61"/>
<rect x="38.1" y="337.3" width="1" height="1" fill="#000" fill-opacity="0.54"/>
<rect x="35.3" y="327.4" width="1" height="1" fill="#000" fill-opacity="0.52"/>
<rect x="27.9" y="359.5" width="1" height="1" fill="#000" fill-opacity="0.28"/>
<rect x="50.9" y="332.5" width="1" height="1" fill="#000" fill-opacity="0.56"/>
<rect x="29.8" y="347.3" width="1" height="1" fill="#000" fill-opacity="0.74"/>
<rect x="42.0" y="329.8" width="1" height="1" fill="#000" fill-opacity="0.27"/>
<rect x="41.8" y="346.9" width="1" height="1" fill="#000" fill-opacity="0.77"/>
<rect x="47.9" y="340.2" width="1" height="1" fill="#000" fill-opacity="0.57"/>
<rect x="41.5" y="341.9" width="1" height="1" fill="#000" fill-opacity="0.47"/>
<rect x="43.8" y="331.5" width="1" height="1" fill="#000" fill-opacity="0.40"/>
<rect x="44.6" y="336.4" width="1" height="1" fill="#000" fill-opacity="0.55"/>
<rect x="22.1" y="353.6" width="1" height="1" fill="#000" fill-opacity="0.61"/>
<rect x="48.6" y="331.7" width="1" height="1" fill="#000" fill-opacity="0.46"/>
<rect x="57.8" y="340.1" width="1" height="1" fill="#000" fill-opacity="0.63"/>
<rect x="43.1" y="347.7" width="1" height="1" fill="#000" fill-opacity="0.57"/>
<rect x="51.3" y="330.4" width="1" height="1" fill="#000" fill-opacity="0.44"/>
<rect x="50.9" y="350.4" width="1" height="1" fill="#000" fill-opacity="0.73"/>
<rect x="51.7" y="354.2" width="1" height="1" fill="#000" fill-opacity="0.34"/>
<rect x="42.9" y="345.5" width="1" height="1" fill="#000" fill-opacity="0.41"/>
<rect x="26.6" y="357.0" width="1" height="1" fill="#000" fill-opacity="0.78"/>
<rect x="47.0" y="349.4" width="1" height="1" fill="#000" fill-opacity="0.77"/>
<rect x="46.6" y="349.7" width="1" height="1" fill="#000" fill-opacity="0.49"/>
<rect x="49.4" y="346.9" width="1" height="1" fill="#000" fill-opacity="0.47"/>
<rect x="26.6" y="356.6" width="1" height="1" fill="#000" fill-opacity="0.40"/>
<rect x="49.6" y="359.8" width="1" height="1" fill="#000" fill-opacity="0.50"/>
<rect x="50.7" y="333.3" width="1" height="1" fill="#000" fill-opacity="0.68"/>
<rect x="42.0" y="347.2" width="1" height="1" fill="#000" fill-opacity="0.67"/>
<rect x="32.7" y="344.9" width="1" height="1" fill="#000" fill-opacity="0.62"/>
<rect x="44.1" y="336.6" width="1" height="1" fill="#000" fill-opacity="0.45"/>
<rect x="53.6" y="338.1" width="1" height="1" fill="#000" fill-opacity="0.41"/>
<rect x="39.2" y="338.5" width="1" height="1" fill="#000" fill-opacity="0.67"/>
<rect x="60.3" y="346.8" width="1" height="1" fill="#000" fill-opacity="0.56"/>
<rect x="31.1" y="358.1" width="1" height="1" fill="#000" fill-opacity="0.40"/>
<rect x="44.1" y="346.0" width="1" height="1" fill="#000" fill-opacity="0.55"/>
<rect x="44.3" y="331.0" width="1" height="1" fill="#000" fill-opacity="0.48"/>
<rect x="45.6" y="339.4" width="1" height="1" fill="#000" fill-opacity="0.42"/>
<rect x="29.5" y="326.5" width="1" height="1" fill="#000" fill-opacity="0.60"/>
<rect x="38.5" y="330.1" width="1" height="1" fill="#000" fill-opacity="0.47"/>
<rect x="57.8" y="338.2" width="1" height="1" fill="#000" fill-opacity="0.44"/>
<rect x="31.3" y="352.0" width="1" height="1" fill="#000" fill-opacity="0.44"/>
<rect x="51.2" y="357.9" width="1" height="1" fill="#000" fill-opacity="0.54"/>
<rect x="30.7" y="341.4" width="1" height="1" fill="#000" fill-opacity="0.75"/>
<rect x="49.5" y="348.4" width="1" height="1" fill="#000" fill-opacity="0.29"/>
<rect x="34.9" y="347.9" width="1" height="1" fill="#000" fill-opacity="0.72"/>
<rect x="38.2" y="333.9" width="1" height="1" fill="#000" fill-opacity="0.47"/>
<rect x="37.6" y="340.1" width="1" height="1" fill="#000" fill-opacity="0.71"/>
<rect x="48.1" y="328.2" width="1" height="1" fill="#000" fill-opacity="0.33"/>
<rect x="36.9" y="331.2" width="1" height="1" fill="#000" fill-opacity="0.53"/>
<rect x="59.5" y="332.8" width="1" height="1" fill="#000" fill-opacity="0.66"/>
<rect x="49.6" y="332.6" width="1" height="1" fill="#000" fill-opacity="0.73"/>
<rect x="53.5" y="352.2" width="1" height="1" fill="#000" fill-opacity="0.64"/>
<rect x="38.5" y="338.8" width="1" height="1" fill="#000" fill-opacity="0.29"/>
<rect x="30.6" y="334.0" width="1" height="1" fill="#000" fill-opacity="0.40"/>
<rect x="45.5" y="348.5" width="1" height="1" fill="#000" fill-opacity="0.30"/>
<rect x="33.1" y="323.6" width="1" height="1" fill="#000" fill-opacity="0.69"/>
<rect x="35.1" y="352.6" width="1" height="1" fill="#000" fill-opacity="0.29"/>
<rect x="48.2" y="337.0" width="1" height="1" fill="#000" fill-opacity="0.25"/>
<rect x="40.6" y="339.8" width="1" height="1" fill="#000" fill-opacity="0.40"/>
<rect x="53.1" y="346.2" width="1" height="1" fill="#000" fill-opacity="0.56"/>
<rect x="44.9" y="340.9" width="1" height="1" fill="#000" fill-opacity="0.71"/>
<rect x="48.9" y="346.7" width="1" height="1" fill="#000" fill-opacity="0.60"/>
<rect x="39.7" y="349.1" width="1" height="1" fill="#000" fill-opacity="0.56"/>
<rect x="47.2" y="356.9" width="1" height="1" fill="#000" fill-opacity="0.36"/>
<rect x="52.7" y="330.7" width="1" height="1" fill="#000" fill-opacity="0.55"/>
<rect x="59.3" y="345.6" width="1" height="1" fill="#000" fill-opacity="0.27"/>
<rect x="34.6" y="342.8" width="1" height="1" fill="#000" fill-opacity="0.28"/>
<rect x="34.1" y="333.6" width="1" height="1" fill="#000" fill-opacity="0.57"/>
<rect x="35.3" y="348.6" width="1" height="1" fill="#000" fill-opacity="0.57"/>
<rect x="46.7" y="358.9" width="1" height="1" fill="#000" fill-opacity="0.80"/>
<rect x="51.7" y="323.8" width="1" height="1" fill="#000" fill-opacity="0.43"/>
<rect x="47.5" y="342.7" width="1" height="1" fill="#000" fill-opacity="0.51"/>
<rect x="50.6" y="349.6" width="1" height="1" fill="#000" fill-opacity="0.63"/>
<rect x="41.4" y="334.5" width="1" height="1" fill="#000" fill-opacity="0.44"/>
<rect x="47.4" y="350.6" width="1" height="1" fill="#000" fill-opacity="0.41"/>
<rect x="49.0" y="355.3" width="1" height="1" fill="#000" fill-opacity="0.53"/>
<rect x="38.5" y="345.0" width="1" height="1" fill="#000" fill-opacity="0.64"/>
<rect x="46.3" y="348.9" width="1" height="1" fill="#000" fill-opacity="0.56"/>
<rect x="36.7" y="322.5" width="1" height="1" fill="#000" fill-opacity="0.66"/>
<rect x="63.2" y="337.3" width="1" height="1" fill="#000" fill-opacity="0.65"/>
<rect x="43.4" y="340.2" width="1" height="1" fill="#000" fill-opacity="0.36"/>
<rect x="61.9" y="344.3" width="1" height="1" fill="#000" fill-opacity="0.65"/>
<rect x="39.2" y="338.4" width="1" height="1" fill="#000" fill-opacity="0.45"/>
<rect x="50.6" y="352.7" width="1" height="1" fill="#000" fill-opacity="0.80"/>
<rect x="43.1" y="345.3" width="1" height="1" fill="#000" fill-opacity="0.35"/>
<rect x="32.2" y="356.5" width="1" height="1" fill="#000" fill-opacity="0.69"/>
<rect x="40.0" y="344.0" width="1" height="1" fill="#000" fill-opacity="0.31"/>
<rect x="52.9" y="354.4" width="1" height="1" fill="#000" fill-opacity="0.51"/>
<rect x="63.8" y="342.0" width="1" height="1" fill="#000" fill-opacity="0.69"/>
<rect x="27.5" y="345.2" width="1" height="1" fill="#000" fill-opacity="0.32"/>
<rect x="53.0" y="349.5" width="1" height="1" fill="#000" fill-opacity="0.53"/>
<rect x="45.7" y="348.9" width="1" height="1" fill="#000" fill-opacity="0.26"/>
<rect x="55.9" y="336.2" width="1" height="1" fill="#000" fill-opacity="0.77"/>
<rect x="53.6" y="342.0" width="1" height="1" fill="#000" fill-opacity="0.65"/>
<rect x="31.7" y="352.7" width="1" height="1" fill="#000" fill-opacity="0.71"/>
<rect x="45.0" y="344.0" width="1" height="1" fill="#000" fill-opacity="0.37"/>
<rect x="36.4" y="339.0" width="1" height="1" fill="#000" fill-opacity="0.26"/>
<rect x="51.6" y="330.7" width="1" height="1" fill="#000" fill-opacity="0.51"/>
<rect x="62.2" y="347.5" width="1" height="1" fill="#000" fill-opacity="0.54"/>
<rect x="40.9" y="353.8" width="1" height="1" fill="#000" fill-opacity="0.64"/>
<rect x="63.2" y="336.3" width="1" height="1" fill="#000" fill-opacity="0.32"/>
<rect x="90.6" y="332.9" width="1" height="1" fill="#000" fill-opacity="0.50"/>
<rect x="45.7" y="351.8" width="1" height="1" fill="#000" fill-opacity="0.49"/>
<rect x="73.0" y="330.3" width="1" height="1" fill="#000" fill-opacity="0.23"/>
<rect x="82.1" y="337.0" width="1" height="1" fill="#000" fill-opacity="0.40"/>
<rect x="75.6" y="331.5" width="1" height="1" fill="#000" fill-opacity="0.52"/>
<rect x="75.9" y="336.0" width="1" height="1" fill="#000" fill-opacity="0.65"/>
<rect x="73.1" y="339.0" width="1" height="1" fill="#000" fill-opacity="0.69"/>
<rect x="46.4" y="350.6" width="1" height="1" fill="#000" fill-opacity="0.61"/>
<rect x="73.5" y="334.9" width="1" height="1" fill="#000" fill-opacity="0.25"/>
<rect x="96.6" y="327.9" width="1" height="1" fill="#000" fill-opacity="0.22"/>
<rect x="52.1" y="342.0" width="1" height="1" fill="#000" fill-opacity="0.54"/>
<rect x="89.6" y="320.2" width="1" height="1" fill="#000" fill-opacity="0.33"/>
<rect x="50.3" y="346.3" width="1" height="1" fill="#000" fill-opacity="0.25"/>
<rect x="95.7" y="325.8" width="1" height="1" fill="#000" fill-opacity="0.60"/>
<rect x="45.4" y="344.7" width="1" height="1" fill="#000" fill-opacity="0.59"/>
<rect x="90.6" y="331.2" width="1" height="1" fill="#000" fill-opacity="0.63"/>
<rect x="69.9" y="331.7" width="1" height="1" fill="#000" fill-opacity="0.51"/>
<rect x="71.4" y="335.1" width="1" height="1" fill="#000" fill-opacity="0.23"/>
<rect x="67.4" y="344.1" width="1" height="1" fill="#000" fill-opacity="0.20"/>
<rect x="85.4" y="336.1" width="1" height="1" fill="#000" fill-opacity="0.61"/>
<rect x="65.3" y="346.0" width="1" height="1" fill="#000" fill-opacity="0.30"/>
<rect x="66.3" y="351.0" width="1" height="1" fill="#000" fill-opacity="0.47"/>
<rect x="60.0" y="347.3" width="1" height="1" fill="#000" fill-opacity="0.62"/>
<rect x="89.5" y="335.6" width="1" height="1" fill="#000" fill-opacity="0.35"/>
<rect x="83.9" y="340.6" width="1" height="1" fill="#000" fill-opacity="0.69"/>
<rect x="83.3" y="334.0" width="1" height="1" fill="#000" fill-opacity="0.26"/>
<rect x="74.9" y="331.2" width="1" height="1" fill="#000" fill-opacity="0.43"/>
<rect x="57.0" y="335.3" width="1" height="1" fill="#000" fill-opacity="0.66"/>
<rect x="81.5" y="321.9" width="1" height="1" fill="#000" fill-opacity="0.62"/>
<rect x="82.6" y="336.7" width="1" height="1" fill="#000" fill-opacity="0.62"/>
<rect x="62.2" y="337.8" width="1" height="1" fill="#000" fill-opacity="0.67"/>
<rect x="61.2" y="335.8" width="1" height="1" fill="#000" fill-opacity="0.35"/>
<rect x="55.9" y="344.3" width="1" height="1" fill="#000" fill-opacity="0.42"/>
<rect x="93.4" y="317.9" width="1" height="1" fill="#000" fill-opacity="0.58"/>
<rect x="91.0" y="332.1" width="1" height="1" fill="#000" fill-opacity="0.34"/>
<rect x="50.5" y="344.2" width="1" height="1" fill="#000" fill-opacity="0.32"/>
<rect x="92.1" y="328.9" width="1" height="1" fill="#000" fill-opacity="0.59"/>
<rect x="86.1" y="326.9" width="1" height="1" fill="#000" fill-opacity="0.47"/>
<rect x="44.9" y="341.2" width="1" height="1" fill="#000" fill-opacity="0.51"/>
<rect x="51.1" y="338.0" width="1" height="1" fill="#000" fill-opacity="0.28"/>
<rect x="65.3" y="332.5" width="1" height="1" fill="#000" fill-opacity="0.67"/>
<rect x="63.0" y="336.1" width="1" height="1" fill="#000" fill-opacity="0.68"/>
<rect x="43.7" y="350.8" width="1" height="1" fill="#000" fill-opacity="0.65"/>
<rect x="40.1" y="356.4" width="1" height="1" fill="#000" fill-opacity="0.69"/>
<rect x="43.7" y="348.2" width="1" height="1" fill="#000" fill-opacity="0.55"/>
<rect x="80.8" y="329.8" width="1" height="1" fill="#000" fill-opacity="0.33"/>
<rect x="40.2" y="342.9" width="1" height="1" fill="#000" fill-opacity="0.33"/>
<rect x="93.4" y="323.5" width="1" height="1" fill="#000" fill-opacity="0.53"/>
<rect x="70.6" y="332.5" width="1" height="1" fill="#000" fill-opacity="0.23"/>
<rect x="44.6" y="346.8" width="1" height="1" fill="#000" fill-opacity="0.27"/>
<rect x="37.6" y="346.3" width="1" height="1" fill="#000" fill-opacity="0.54"/>
<rect x="52.4" y="339.5" width="1" height="1" fill="#000" fill-opacity="0.25"/>
<rect x="50.6" y="347.7" width="1" height="1" fill="#000" fill-opacity="0.42"/>
<rect x="84.4" y="342.5" width="1" height="1" fill="#000" fill-opacity="0.37"/>
<rect x="91.1" y="334.7" width="1" height="1" fill="#000" fill-opacity="0.31"/>
<rect x="89.3" y="323.6" width="1" height="1" fill="#000" fill-opacity="0.34"/>
<rect x="42.2" y="359.0" width="1" height="1" fill="#000" fill-opacity="0.28"/>
<rect x="72.0" y="331.5" width="1" height="1" fill="#000" fill-opacity="0.29"/>
<rect x="51.5" y="355.0" width="1" height="1" fill="#000" fill-opacity="0.39"/>
<rect x="73.1" y="334.4" width="1" height="1" fill="#000" fill-opacity="0.23"/>
<rect x="41.2" y="344.4" width="1" height="1" fill="#000" fill-opacity="0.68"/>
<rect x="57.0" y="338.4" width="1" height="1" fill="#000" fill-opacity="0.59"/>
<rect x="49.0" y="349.0" width="1" height="1" fill="#000" fill-opacity="0.26"/>
<rect x="51.5" y="338.9" width="1" height="1" fill="#000" fill-opacity="0.39"/>
<rect x="82.3" y="337.8" width="1" height="1" fill="#000" fill-opacity="0.31"/>
<rect x="56.0" y="347.7" width="1" height="1" fill="#000" fill-opacity="0.44"/>
<rect x="92.6" y="334.5" width="1" height="1" fill="#000" fill-opacity="0.62"/>
<rect x="52.8" y="345.0" width="1" height="1" fill="#000" fill-opacity="0.26"/>
<rect x="62.6" y="337.3" width="1" height="1" fill="#000" fill-opacity="0.26"/>
<rect x="64.8" y="343.4" width="1" height="1" fill="#000" fill-opacity="0.42"/>
<rect x="46.6" y="348.0" width="1" height="1" fill="#000" fill-opacity="0.43"/>
<rect x="92.7" y="329.6" width="1" height="1" fill="#000" fill-opacity="0.31"/>
<rect x="76.0" y="329.7" width="1" height="1" fill="#000" fill-opacity="0.68"/>
<rect x="92.9" y="341.2" width="1" height="1" fill="#000" fill-opacity="0.46"/>
<rect x="52.8" y="354.3" width="1" height="1" fill="#000" fill-opacity="0.31"/>
<rect x="42.4" y="359.7" width="1" height="1" fill="#000" fill-opacity="0.43"/>
<rect x="82.3" y="337.6" width="1" height="1" fill="#000" fill-opacity="0.36"/>
<rect x="47.4" y="339.5" width="1" height="1" fill="#000" fill-opacity="0.26"/>
<rect x="95.3" y="329.8" width="1" height="1" fill="#000" fill-opacity="0.21"/>
<rect x="74.2" y="336.1" width="1" height="1" fill="#000" fill-opacity="0.44"/>
<rect x="78.7" y="333.4" width="1" height="1" fill="#000" fill-opacity="0.45"/>
<rect x="70.9" y="334.4" width="1" height="1" fill="#000" fill-opacity="0.60"/>
<rect x="93.9" y="318.4" width="1" height="1" fill="#000" fill-opacity="0.38"/>
<rect x="92.0" y="335.0" width="1" height="1" fill="#000" fill-opacity="0.50"/>
<rect x="92.7" y="333.2" width="1" height="1" fill="#000" fill-opacity="0.22"/>
<rect x="62.6" y="343.3" width="1" height="1" fill="#000" fill-opacity="0.57"/>
<rect x="72.7" y="335.3" width="1" height="1" fill="#000" fill-opacity="0.54"/>
<rect x="42.0" y="345.5" width="1" height="1" fill="#000" fill-opacity="0.44"/>
<rect x="68.7" y="336.7" width="1" height="1" fill="#000" fill-opacity="0.70"/>
<rect x="73.8" y="348.0" width="1" height="1" fill="#000" fill-opacity="0.30"/>
<rect x="96.2" y="330.2" width="1" height="1" fill="#000" fill-opacity="0.68"/>
<rect x="53.0" y="345.4" width="1" height="1" fill="#000" fill-opacity="0.53"/>
<rect x="39.6" y="349.3" width="1" height="1" fill="#000" fill-opacity="0.61"/>
<rect x="38.5" y="344.1" width="1" height="1" fill="#000" fill-opacity="0.43"/>
<rect x="68.7" y="334.8" width="1" height="1" fill="#000" fill-opacity="0.32"/>
<rect x="46.0" y="344.7" width="1" height="1" fill="#000" fill-opacity="0.27"/>
<rect x="62.0" y="332.6" width="1" height="1" fill="#000" fill-opacity="0.23"/>
<rect x="51.8" y="350.8" width="1" height="1" fill="#000" fill-opacity="0.43"/>
<rect x="62.6" y="335.1" width="1" height="1" fill="#000" fill-opacity="0.63"/>
<rect x="94.3" y="344.1" width="1" height="1" fill="#000" fill-opacity="0.40"/>
<rect x="42.7" y="345.1" width="1" height="1" fill="#000" fill-opacity="0.21"/>
<rect x="51.5" y="358.1" width="1" height="1" fill="#000" fill-opacity="0.64"/>
<rect x="55.7" y="338.5" width="1" height="1" fill="#000" fill-opacity="0.60"/>
<rect x="73.6" y="336.0" width="1" height="1" fill="#000" fill-opacity="0.32"/>
<rect x="71.3" y="330.5" width="1" height="1" fill="#000" fill-opacity="0.65"/>
<rect x="95.7" y="332.0" width="1" height="1" fill="#000" fill-opacity="0.65"/>
<rect x="71.2" y="346.2" width="1" height="1" fill="#000" fill-opacity="0.33"/>
<rect x="48.3" y="349.3" width="1" height="1" fill="#000" fill-opacity="0.54"/>
<rect x="42.3" y="337.8" width="1" height="1" fill="#000" fill-opacity="0.44"/>
<rect x="76.1" y="335.0" width="1" height="1" fill="#000" fill-opacity="0.44"/>
<rect x="75.5" y="327.3" width="1" height="1" fill="#000" fill-opacity="0.29"/>
<rect x="95.5" y="325.6" width="1" height="1" fill="#000" fill-opacity="0.42"/>
<rect x="95.8" y="335.8" width="1" height="1" fill="#000" fill-opacity="0.68"/>
<rect x="91.6" y="340.9" width="1" height="1" fill="#000" fill-opacity="0.38"/>
<rect x="75.6" y="332.9" width="1" height="1" fill="#000" fill-opacity="0.31"/>
<rect x="49.1" y="345.8" width="1" height="1" fill="#000" fill-opacity="0.27"/>
<rect x="58.8" y="342.0" width="1" height="1" fill="#000" fill-opacity="0.49"/>
<rect x="91.9" y="327.6" width="1" height="1" fill="#000" fill-opacity="0.55"/>
<rect x="62.8" y="346.5" width="1" height="1" fill="#000" fill-opacity="0.21"/>
<rect x="77.5" y="340.6" width="1" height="1" fill="#000" fill-opacity="0.68"/>
<rect x="84.0" y="326.5" width="1" height="1" fill="#000" fill-opacity="0.52"/>
<rect x="79.7" y="334.3" width="1" height="1" fill="#000" fill-opacity="0.58"/>
<rect x="53.6" y="353.9" width="1" height="1" fill="#000" fill-opacity="0.50"/>
<rect x="90.1" y="326.5" width="1" height="1" fill="#000" fill-opacity="0.30"/>
<rect x="36.5" y="344.8" width="1" height="1" fill="#000" fill-opacity="0.34"/>
<rect x="43.9" y="346.4" width="1" height="1" fill="#000" fill-opacity="0.55"/>
<rect x="40.3" y="351.6" width="1" height="1" fill="#000" fill-opacity="0.56"/>
<rect x="98.3" y="329.6" width="1" height="1" fill="#000" fill-opacity="0.67"/>
<rect x="97.3" y="334.0" width="1" height="1" fill="#000" fill-opacity="0.46"/>
<rect x="52.3" y="345.8" width="1" height="1" fill="#000" fill-opacity="0.33"/>
<rect x="43.1" y="348.2" width="1" height="1" fill="#000" fill-opacity="0.25"/>
<rect x="72.3" y="332.4" width="1" height="1" fill="#000" fill-opacity="0.60"/>
<rect x="78.1" y="340.5" width="1" height="1" fill="#000" fill-opacity="0.29"/>
<rect x="92.3" y="329.8" width="1" height="1" fill="#000" fill-opacity="0.28"/>
<rect x="74.3" y="341.7" width="1" height="1" fill="#000" fill-opacity="0.31"/>
<rect x="84.5" y="330.8" width="1" height="1" fill="#000" fill-opacity="0.49"/>
<rect x="46.8" y="334.1" width="1" height="1" fill="#000" fill-opacity="0.60"/>
<rect x="53.1" y="348.8" width="1" height="1" fill="#000" fill-opacity="0.48"/>
<rect x="46.6" y="352.7" width="1" height="1" fill="#000" fill-opacity="0.25"/>
<rect x="73.7" y="341.2" width="1" height="1" fill="#000" fill-opacity="0.41"/>
<rect x="67.2" y="337.1" width="1" height="1" fill="#000" fill-opacity="0.56"/>
<rect x="48.6" y="352.4" width="1" height="1" fill="#000" fill-opacity="0.55"/>
<rect x="73.7" y="334.6" width="1" height="1" fill="#000" fill-opacity="0.36"/>
<rect x="75.3" y="339.5" width="1" height="1" fill="#000" fill-opacity="0.31"/>
<rect x="84.3" y="325.4" width="1" height="1" fill="#000" fill-opacity="0.68"/>
<rect x="83.2" y="338.2" width="1" height="1" fill="#000" fill-opacity="0.56"/>
<rect x="41.0" y="344.8" width="1" height="1" fill="#000" fill-opacity="0.22"/>
<rect x="69.4" y="350.2" width="1" height="1" fill="#000" fill-opacity="0.64"/>
<rect x="62.6" y="312.1" width="1" height="1" fill="#000" fill-opacity="0.29"/>
<rect x="58.0" y="317.1" width="1" height="1" fill="#000" fill-opacity="0.29"/>
<rect x="90.3" y="289.8" width="1" height="1" fill="#000" fill-opacity="0.25"/>
<rect x="62.9" y="322.9" width="1" height="1" fill="#000" fill-opacity="0.19"/>
<rect x="36.6" y="318.0" width="1" height="1" fill="#000" fill-opacity="0.37"/>
<rect x="36.3" y="321.0" width="1" height="1" fill="#000" fill-opacity="0.43"/>
<rect x="81.6" y="304.7" width="1" height="1" fill="#000" fill-opacity="0.33"/>
<rect x="67.6" y="325.6" width="1" height="1" fill="#000" fill-opacity="0.42"/>
<rect x="22.1" y="330.6" width="1" height="1" fill="#000" fill-opacity="0.22"/>
<rect x="27.9" y="310.2" width="1" height="1" fill="#000" fill-opacity="0.26"/>
<rect x="26.5" y="333.0" width="1" height="1" fill="#000" fill-opacity="0.44"/>
<rect x="23.1" y="351.8" width="1" height="1" fill="#000" fill-opacity="0.16"/>
<rect x="35.4" y="331.5" width="1" height="1" fill="#000" fill-opacity="0.30"/>
<rect x="95.2" y="289.8" width="1" height="1" fill="#000" fill-opacity="0.37"/>
<rect x="56.0" y="313.8" width="1" height="1" fill="#000" fill-opacity="0.20"/>
<rect x="109.2" y="281.0" width="1" height="1" fill="#000" fill-opacity="0.36"/>
<rect x="105.3" y="272.0" width="1" height="1" fill="#000" fill-opacity="0.44"/>
<rect x="71.2" y="310.6" width="1" height="1" fill="#000" fill-opacity="0.36"/>
<rect x="88.0" y="295.2" width="1" height="1" fill="#000" fill-opacity="0.44"/>
<rect x="33.9" y="318.3" width="1" height="1" fill="#000" fill-opacity="0.20"/>
<rect x="19.7" y="326.2" width="1" height="1" fill="#000" fill-opacity="0.17"/>
<rect x="92.5" y="288.7" width="1" height="1" fill="#000" fill-opacity="0.37"/>
<rect x="54.2" y="325.4" width="1" height="1" fill="#000" fill-opacity="0.39"/>
<rect x="94.3" y="280.7" width="1" height="1" fill="#000" fill-opacity="0.37"/>
<rect x="89.5" y="279.9" width="1" height="1" fill="#000" fill-opacity="0.23"/>
<rect x="96.8" y="273.8" width="1" height="1" fill="#000" fill-opacity="0.24"/>
<rect x="49.1" y="321.1" width="1" height="1" fill="#000" fill-opacity="0.16"/>
<rect x="48.2" y="314.3" width="1" height="1" fill="#000" fill-opacity="0.33"/>
<rect x="97.6" y="271.0" width="1" height="1" fill="#000" fill-opacity="0.42"/>
<rect x="103.2" y="284.0" width="1" height="1" fill="#000" fill-opacity="0.37"/>
<rect x="90.9" y="302.1" width="1" height="1" fill="#000" fill-opacity="0.25"/>
<rect x="100.0" y="294.1" width="1" height="1" fill="#000" fill-opacity="0.23"/>
<rect x="83.1" y="303.2" width="1" height="1" fill="#000" fill-opacity="0.40"/>
<rect x="108.8" y="302.2" width="1" height="1" fill="#000" fill-opacity="0.37"/>
<rect x="78.1" y="290.0" width="1" height="1" fill="#000" fill-opacity="0.41"/>
<rect x="61.6" y="304.0" width="1" height="1" fill="#000" fill-opacity="0.38"/>
<rect x="92.3" y="280.4" width="1" height="1" fill="#000" fill-opacity="0.23"/>
<rect x="48.9" y="325.8" width="1" height="1" fill="#000" fill-opacity="0.13"/>
<rect x="90.1" y="290.2" width="1" height="1" fill="#000" fill-opacity="0.14"/>
<rect x="87.8" y="301.7" width="1" height="1" fill="#000" fill-opacity="0.25"/>
<rect x="96.8" y="282.3" width="1" height="1" fill="#000" fill-opacity="0.33"/>
<rect x="81.2" y="284.3" width="1" height="1" fill="#000" fill-opacity="0.36"/>
<rect x="55.8" y="304.5" width="1" height="1" fill="#000" fill-opacity="0.15"/>
<rect x="76.6" y="285.8" width="1" height="1" fill="#000" fill-opacity="0.28"/>
<rect x="66.0" y="297.1" width="1" height="1" fill="#000" fill-opacity="0.19"/>
<rect x="39.6" y="335.5" width="1" height="1" fill="#000" fill-opacity="0.35"/>
<rect x="34.4" y="325.6" width="1" height="1" fill="#000" fill-opacity="0.31"/>
<rect x="57.0" y="295.7" width="1" height="1" fill="#000" fill-opacity="0.15"/>
<rect x="72.6" y="283.4" width="1" height="1" fill="#000" fill-opacity="0.24"/>
<rect x="40.4" y="299.6" width="1" height="1" fill="#000" fill-opacity="0.19"/>
<rect x="105.6" y="279.6" width="1" height="1" fill="#000" fill-opacity="0.25"/>
<rect x="87.2" y="287.5" width="1" height="1" fill="#000" fill-opacity="0.22"/>
<rect x="49.4" y="306.9" width="1" height="1" fill="#000" fill-opacity="0.30"/>
<rect x="62.3" y="298.2" width="1" height="1" fill="#000" fill-opacity="0.44"/>
<defs><radialGradient id="tb"><stop offset="0" stop-color="#000"/><stop offset="0.5" stop-color="#1a1a1a"/><stop offset="1" stop-color="#555" stop-opacity="0.5"/></radialGradient></defs>
<ellipse cx="38" cy="356" rx="8.5" ry="6.2" fill="url(#tb)"/>
<ellipse cx="39" cy="356" rx="10.8" ry="7.8" fill="none" stroke="#222" stroke-width="0.9" stroke-opacity="0.8"/>
<line x1="13.5" y1="367.3" x2="115.5" y2="367.3" stroke="#333" stroke-width="1" stroke-dasharray="1,3.06"/>
<line x1="13.5" y1="264.7" x2="115.5" y2="264.7" stroke="#555" stroke-width="1" stroke-dasharray="1,3.06"/>
<line x1="13.5" y1="265" x2="13.5" y2="366.5" stroke="#333" stroke-width="1.2" stroke-dasharray="1,3.06"/>
<line x1="144.8" y1="56" x2="144.8" y2="159.79999999999998" stroke="#555" stroke-width="1.5"/>
<line x1="144.8" y1="159.2" x2="245.4" y2="159.2" stroke="#333" stroke-width="1.2"/>
<text transform="translate(139.60000000000002,55.7) rotate(-90)" text-anchor="middle" font-family="Liberation Sans, sans-serif" font-size="9.6" fill="#000" stroke="#000" stroke-width="0.2">68</text>
<text transform="translate(139.4,159.2) rotate(-90)" text-anchor="middle" font-family="Liberation Sans, sans-serif" font-size="9.8" fill="#000" stroke="#000" stroke-width="0.2">0</text>
<text x="140.3" y="169.5" font-family="Liberation Sans, sans-serif" font-size="9.5" fill="#000" stroke="#000" stroke-width="0.2">10<tspan font-size="6.3" dx="1.2" dy="-3.5">0</tspan></text>
<text x="165.5" y="169.5" font-family="Liberation Sans, sans-serif" font-size="9.5" fill="#000" stroke="#000" stroke-width="0.2">10<tspan font-size="6.3" dx="1.2" dy="-3.5">1</tspan></text>
<text x="190.6" y="169.5" font-family="Liberation Sans, sans-serif" font-size="9.5" fill="#000" stroke="#000" stroke-width="0.2">10<tspan font-size="6.3" dx="1.2" dy="-3.5">2</tspan></text>
<text x="215.8" y="169.5" font-family="Liberation Sans, sans-serif" font-size="9.5" fill="#000" stroke="#000" stroke-width="0.2">10<tspan font-size="6.3" dx="1.2" dy="-3.5">3</tspan></text>
<text x="240.9" y="169.5" font-family="Liberation Sans, sans-serif" font-size="9.5" fill="#000" stroke="#000" stroke-width="0.2">10<tspan font-size="6.3" dx="1.2" dy="-3.5">4</tspan></text>
<polygon points="145.0,159.0 145.0,155.0 145.5,155.8 146.0,154.7 146.5,154.6 147.0,152.4 147.5,152.3 148.0,153.9 148.5,152.6 149.0,152.2 149.5,149.5 150.0,151.0 150.5,152.0 151.0,148.1 151.5,148.2 152.0,151.9 152.5,150.5 153.0,149.9 153.5,147.7 154.0,147.1 154.5,148.3 155.0,151.4 155.5,150.5 156.0,150.5 156.5,150.0 157.0,152.3 157.5,150.1 158.0,149.1 158.5,151.4 159.0,152.0 159.5,152.2 160.0,152.2 160.5,153.3 161.0,154.1 161.5,153.3 162.0,154.0 162.5,152.9 163.0,153.5 163.5,155.0 164.0,155.6 164.5,154.9 165.0,154.1 165.5,155.1 166.0,154.9 166.5,155.4 167.0,157.0 167.5,156.1 168.0,155.9 168.5,156.8 169.0,156.0 169.5,156.6 170.0,156.6 170.5,156.9 171.0,155.9 171.5,157.3 172.0,157.3 172.5,155.5 173.0,155.1 173.5,156.1 174.0,157.1 174.5,156.4 175.0,156.7 175.5,156.5 176.0,156.4 176.5,155.3 177.0,155.1 177.5,155.5 178.0,155.3 178.5,154.9 179.0,154.3 179.5,153.1 180.0,153.6 180.5,151.7 181.0,150.6 181.5,145.0 182.0,146.7 182.5,140.2 183.0,140.8 183.5,136.8 184.0,135.1 184.5,131.9 185.0,129.8 185.7,127.2 186.2,124.2 186.7,118.6 187.0,115.1 187.5,113.1 188.0,112.5 188.5,106.9 189.0,100.9 189.3,94.5 189.7,89.6 190.2,90.8 190.5,88.5 191.0,82.7 191.5,79.9 192.1,79.5 192.6,72.2 193.0,72.6 193.6,68.0 194.2,59.7 194.8,67.6 195.3,71.2 196.0,80.8 196.5,88.5 196.8,88.9 197.5,83.2 198.0,77.6 198.5,70.5 199.2,80.9 199.7,93.1 200.0,109.4 200.5,108.0 201.0,111.4 201.5,115.4 202.0,118.5 202.5,128.7 203.0,129.0 203.5,134.4 204.2,141.8 204.7,144.5 205.2,148.0 205.7,147.5 206.3,152.0 206.8,153.9 207.3,155.4 207.7,158.0 207.7,159.0" fill="#000"/>
<polyline points="146.5,159.0 146.5,120.2 147.0,97.5 147.5,101.1 148.0,90.6 148.5,93.3 149.0,90.6 149.5,83.9 150.0,82.2 150.5,82.5 151.0,77.8 151.5,82.2 152.0,78.4 152.5,74.3 153.0,74.5 153.5,76.6 154.0,68.8 154.5,72.4 155.0,60.0 155.5,61.0 156.0,67.6 156.5,68.6 157.0,79.5 157.5,79.9 158.0,80.8 158.5,82.3 159.0,82.2 159.5,90.7 160.0,89.3 160.5,92.4 161.0,95.1 161.5,99.3 162.0,100.5 162.5,107.7 163.0,108.7 163.5,121.1 164.0,119.9 164.5,125.1 165.0,130.5 165.5,138.3 166.0,140.9 166.5,140.3 167.0,144.3 167.5,146.0 168.0,145.2 168.5,149.7 169.0,152.0 169.5,154.6 170.0,154.3 170.5,153.9 171.0,155.5 171.5,157.9 172.0,158.5" fill="none" stroke="#8a8a8a" stroke-width="0.8"/>
<polyline points="145.5,159.0 145.5,120.1 146.0,100.2 146.5,96.4 147.0,91.5 147.5,86.6 148.0,88.7 148.5,87.0 149.0,84.9 149.5,85.3 150.0,78.0 150.5,72.7 151.0,75.1 151.5,82.9 152.0,74.5 152.5,75.1 153.0,72.0 153.5,68.1 154.0,60.0 154.5,73.5 155.0,67.1 155.5,71.5 156.0,75.0 156.5,77.7 157.0,78.9 157.5,77.4 158.0,84.1 158.5,88.0 159.0,88.7 159.5,90.7 160.0,93.7 160.5,93.1 161.0,100.9 161.5,106.7 162.0,112.0 162.5,119.2 163.0,121.3 163.5,127.5 164.0,133.4 164.5,137.7 165.0,137.7 165.5,142.8 166.0,143.5 166.5,146.5 167.0,148.5 167.5,149.3 168.0,152.6 168.5,154.8 169.0,155.0 169.5,156.1 170.0,156.0 170.5,158.6 171.0,158.5" fill="none" stroke="#262626" stroke-width="1.05"/>
<line x1="275" y1="56.4" x2="275" y2="159.4" stroke="#555" stroke-width="1.5"/>
<line x1="275" y1="158.8" x2="376.5" y2="158.8" stroke="#333" stroke-width="1.2"/>
<text transform="translate(269.8,56.1) rotate(-90)" text-anchor="middle" font-family="Liberation Sans, sans-serif" font-size="9.6" fill="#000" stroke="#000" stroke-width="0.2">105</text>
<text transform="translate(269.6,158.8) rotate(-90)" text-anchor="middle" font-family="Liberation Sans, sans-serif" font-size="9.8" fill="#000" stroke="#000" stroke-width="0.2">0</text>
<text x="271.3" y="169.10000000000002" font-family="Liberation Sans, sans-serif" font-size="9.5" fill="#000" stroke="#000" stroke-width="0.2">10<tspan font-size="6.3" dx="1.2" dy="-3.5">0</tspan></text>
<text x="296.7" y="169.10000000000002" font-family="Liberation Sans, sans-serif" font-size="9.5" fill="#000" stroke="#000" stroke-width="0.2">10<tspan font-size="6.3" dx="1.2" dy="-3.5">1</tspan></text>
<text x="322.1" y="169.10000000000002" font-family="Liberation Sans, sans-serif" font-size="9.5" fill="#000" stroke="#000" stroke-width="0.2">10<tspan font-size="6.3" dx="1.2" dy="-3.5">2</tspan></text>
<text x="347.5" y="169.10000000000002" font-family="Liberation Sans, sans-serif" font-size="9.5" fill="#000" stroke="#000" stroke-width="0.2">10<tspan font-size="6.3" dx="1.2" dy="-3.5">3</tspan></text>
<text x="372.9" y="169.10000000000002" font-family="Liberation Sans, sans-serif" font-size="9.5" fill="#000" stroke="#000" stroke-width="0.2">10<tspan font-size="6.3" dx="1.2" dy="-3.5">4</tspan></text>
<polyline points="275.5,158.0 276.0,130.1 276.5,98.2 277.0,91.2 277.5,86.1 278.0,87.8 278.5,83.9 279.0,91.1 279.5,94.6 280.0,87.4 280.5,88.0 281.0,87.0 281.5,87.1 282.0,75.9 282.2,61.0 282.7,68.4 283.0,64.2 283.5,69.3 284.0,66.9 284.5,75.0 285.0,71.0 285.6,70.8 286.1,77.4 286.6,73.8 287.0,77.3 287.5,78.9 288.0,81.4 288.5,75.5 289.2,79.1 289.7,86.1 290.2,90.8 290.5,97.2 291.0,101.5 291.3,109.3 291.8,115.2 292.3,112.8 292.8,119.1 293.5,126.1 294.0,129.1 294.5,133.7 295.0,135.8 295.5,139.3 296.0,141.6 296.3,143.9 296.8,146.3 297.3,148.3 297.8,148.4 298.3,150.8 298.8,152.0 299.2,153.9 299.7,154.3 300.2,157.1 300.7,158.1 301.0,158.5" fill="none" stroke="#262626" stroke-width="1.05" stroke-dasharray="1,1.1"/>
<polyline points="275.8,91.2 276.2,97.0 276.5,91.0 276.9,98.4 277.2,90.1 277.6,120.5 277.9,91.8 278.2,123.9 278.6,90.3 278.9,107.0 279.3,91.4 279.6,113.8 280.0,90.4 280.3,118.1 280.7,90.2 281.0,121.8" fill="none" stroke="#666" stroke-width="0.9" stroke-dasharray="1,1.2"/>
<polyline points="283.0,69.4 283.6,84.9 284.2,72.5 284.8,86.4 285.4,74.1 286.0,86.8 286.6,77.2 287.2,91.9 287.8,78.8 288.4,91.7 289.0,81.4 289.6,97.7" fill="none" stroke="#888" stroke-width="0.9" stroke-dasharray="1,1.2"/>
<polyline points="309.0,158.5 309.5,157.4 310.0,157.7 310.5,156.1 311.0,154.1 311.5,154.6 312.0,152.7 312.5,150.5 313.0,148.8 313.7,146.4 314.2,144.1 314.7,139.6 315.2,133.6 315.7,130.4 316.2,133.7 316.5,127.6 317.0,124.9 317.5,120.7 318.0,115.5 318.5,114.3 319.0,112.6 319.5,105.5 320.0,104.4 320.5,102.9 321.0,95.8 321.5,92.6 322.0,84.8 322.3,85.7 322.8,81.4 323.5,82.4 324.0,72.2 324.5,73.8 325.2,60.0 325.7,65.1 326.0,68.1 326.5,69.9 327.0,78.8 327.4,77.2 327.9,91.4 328.4,95.8 328.8,97.7 329.3,96.4 329.8,104.7 330.2,106.8 330.7,115.4 331.0,127.6 331.0,142.3 331.5,148.3 332.0,158.0" fill="none" stroke="#8a8a8a" stroke-width="0.8"/>
<polyline points="308.0,158.5 308.5,157.8 309.0,157.0 309.5,154.5 310.0,153.8 310.5,153.0 311.0,151.9 311.5,149.2 312.0,149.3 312.7,147.2 313.2,144.9 313.7,138.0 314.2,135.8 314.7,132.2 315.2,128.9 315.5,128.0 316.0,122.6 316.5,125.4 317.0,115.2 317.5,114.8 318.0,111.7 318.5,107.3 319.0,102.4 319.5,97.9 320.0,96.3 320.5,93.7 321.0,87.6 321.3,85.4 321.8,84.1 322.5,78.6 323.0,72.4 323.5,72.5 324.2,60.0 324.7,64.8 325.0,67.3 325.5,78.4 326.0,74.1 326.4,77.5 326.9,87.8 327.4,88.8 327.8,95.4 328.3,103.2 328.8,102.9 329.2,111.3 329.7,120.1 330.0,129.8 330.0,140.1 330.5,149.1 331.0,158.0" fill="none" stroke="#262626" stroke-width="1.05"/>
<polygon points="325.0,159.0 325.0,159.0 325.5,157.3 326.0,156.2 326.5,154.6 327.0,153.6 327.5,153.0 327.8,150.8 328.3,147.5 328.8,142.9 329.3,144.3 329.8,139.2 330.3,136.2 330.6,134.3 331.1,133.4 331.6,129.8 332.1,128.1 332.8,122.8 333.3,118.7 333.8,114.8 334.3,106.9 334.9,107.5 335.4,98.1 335.6,98.6 336.0,91.0 336.4,83.1 336.9,84.9 337.5,85.2 338.0,89.1 338.5,88.2 339.0,84.4 339.5,87.2 340.0,74.5 340.6,67.9 341.1,61.0 341.6,69.7 342.0,75.6 342.3,81.8 343.0,85.4 343.5,91.1 344.0,96.5 344.1,109.7 344.6,124.7 344.9,131.5 345.4,136.2 345.9,137.7 346.4,144.2 347.0,149.3 347.5,149.1 348.0,153.8 348.5,155.3 349.1,158.5 349.1,159.0" fill="#000"/>
<line x1="405.8" y1="56.3" x2="405.8" y2="159.4" stroke="#555" stroke-width="1.5"/>
<line x1="405.8" y1="158.8" x2="508" y2="158.8" stroke="#999" stroke-width="1"/>
<line x1="405.8" y1="158.4" x2="508" y2="158.4" stroke="#333" stroke-width="1" stroke-dasharray="1,2.3,0.8,1.7"/>
<text transform="translate(400.6,56.0) rotate(-90)" text-anchor="middle" font-family="Liberation Sans, sans-serif" font-size="9.6" fill="#000" stroke="#000" stroke-width="0.2">90</text>
<text transform="translate(400.40000000000003,158.8) rotate(-90)" text-anchor="middle" font-family="Liberation Sans, sans-serif" font-size="9.8" fill="#000" stroke="#000" stroke-width="0.2">0</text>
<text x="401.7" y="169.10000000000002" font-family="Liberation Sans, sans-serif" font-size="9.5" fill="#000" stroke="#000" stroke-width="0.2">10<tspan font-size="6.3" dx="1.2" dy="-3.5">0</tspan></text>
<text x="427.1" y="169.10000000000002" font-family="Liberation Sans, sans-serif" font-size="9.5" fill="#000" stroke="#000" stroke-width="0.2">10<tspan font-size="6.3" dx="1.2" dy="-3.5">1</tspan></text>
<text x="452.4" y="169.10000000000002" font-family="Liberation Sans, sans-serif" font-size="9.5" fill="#000" stroke="#000" stroke-width="0.2">10<tspan font-size="6.3" dx="1.2" dy="-3.5">2</tspan></text>
<text x="477.8" y="169.10000000000002" font-family="Liberation Sans, sans-serif" font-size="9.5" fill="#000" stroke="#000" stroke-width="0.2">10<tspan font-size="6.3" dx="1.2" dy="-3.5">3</tspan></text>
<text x="503.1" y="169.10000000000002" font-family="Liberation Sans, sans-serif" font-size="9.5" fill="#000" stroke="#000" stroke-width="0.2">10<tspan font-size="6.3" dx="1.2" dy="-3.5">4</tspan></text>
<polyline points="406.7,159.0 406.7,129.6 407.0,109.2 407.4,87.6 407.9,87.0 408.4,89.9 408.8,99.8 409.3,91.8 410.0,86.1 410.5,81.2 411.0,76.3 411.5,78.5 412.1,92.0 412.6,85.5 413.0,77.2 413.5,60.6 413.8,59.0 414.5,64.7 415.2,68.6 415.7,68.8 416.4,60.5 416.9,70.8 417.1,73.6 417.8,87.4 418.5,75.1 419.0,66.7 419.5,64.8 420.0,66.5 420.3,74.1 421.0,79.5 421.7,88.6 422.3,102.1 423.0,106.1 423.5,110.2 424.0,116.0 424.5,122.1 425.0,125.0 425.5,131.4 426.0,136.1 426.5,135.5 427.0,140.1 427.3,142.0 427.8,144.8 428.3,146.2 428.8,149.3 429.3,150.5 429.8,150.5 430.2,153.3 430.7,152.2 431.2,155.9 431.7,157.6 432.0,158.5" fill="none" stroke="#8a8a8a" stroke-width="0.8"/>
<polyline points="405.7,159.0 405.7,130.6 406.0,109.6 406.4,89.3 406.9,94.4 407.4,92.2 407.8,95.9 408.3,92.5 409.0,85.8 409.5,80.5 410.0,76.7 410.5,80.6 411.1,94.9 411.6,86.4 412.0,76.9 412.5,66.3 412.8,59.0 413.5,65.6 414.2,71.7 414.7,66.1 415.4,56.8 415.9,68.9 416.1,74.9 416.8,85.9 417.5,73.4 418.0,68.8 418.5,63.3 419.0,69.2 419.3,71.9 420.0,78.5 420.7,91.5 421.3,101.2 422.0,106.5 422.5,109.6 423.0,112.6 423.5,124.1 424.0,128.7 424.5,130.0 425.0,132.7 425.5,134.9 426.0,141.0 426.3,141.2 426.8,143.9 427.3,146.9 427.8,148.1 428.3,151.7 428.8,151.3 429.2,153.5 429.7,155.1 430.2,155.6 430.7,157.6 431.0,158.5" fill="none" stroke="#262626" stroke-width="1.05"/>
<polygon points="453.5,159.0 453.5,159.0 454.0,156.7 454.5,154.2 455.0,153.2 455.5,151.6 456.0,153.2 456.5,150.3 457.0,149.8 457.5,149.7 458.0,148.4 458.5,148.3 459.2,146.9 459.7,143.1 460.2,139.2 460.7,138.1 461.2,139.7 461.7,135.7 462.1,133.1 462.6,129.9 463.1,128.2 463.6,126.7 464.1,121.3 464.6,120.1 464.9,119.2 465.4,117.7 465.9,107.8 466.3,107.6 466.8,102.4 467.5,103.8 467.8,92.3 468.3,90.1 468.8,91.1 469.3,87.5 469.9,83.9 470.4,73.4 470.9,73.5 471.3,68.4 471.8,62.8 472.5,59.1 473.0,54.9 473.4,56.8 473.9,61.7 474.3,60.5 474.8,63.0 475.2,63.2 475.7,77.7 476.3,83.8 476.8,85.4 477.3,92.3 477.7,89.6 478.0,109.2 478.5,114.8 479.1,128.8 479.6,131.1 480.1,137.6 480.6,139.3 481.3,146.1 481.8,149.1 482.3,149.0 482.8,152.0 483.4,154.0 483.9,156.4 484.4,157.0 484.8,158.5 484.8,159.0" fill="#000"/>
<line x1="144.6" y1="264" x2="144.6" y2="367.5" stroke="#555" stroke-width="1.5"/>
<line x1="144.6" y1="366.9" x2="245.8" y2="366.9" stroke="#777" stroke-width="1.1"/>
<text transform="translate(139.4,263.7) rotate(-90)" text-anchor="middle" font-family="Liberation Sans, sans-serif" font-size="9.6" fill="#000" stroke="#000" stroke-width="0.2">140</text>
<text transform="translate(139.2,366.9) rotate(-90)" text-anchor="middle" font-family="Liberation Sans, sans-serif" font-size="9.8" fill="#000" stroke="#000" stroke-width="0.2">0</text>
<text x="140.8" y="377.2" font-family="Liberation Sans, sans-serif" font-size="9.5" fill="#000" stroke="#000" stroke-width="0.2">10<tspan font-size="6.3" dx="1.2" dy="-3.5">0</tspan></text>
<text x="166.0" y="377.2" font-family="Liberation Sans, sans-serif" font-size="9.5" fill="#000" stroke="#000" stroke-width="0.2">10<tspan font-size="6.3" dx="1.2" dy="-3.5">1</tspan></text>
<text x="191.2" y="377.2" font-family="Liberation Sans, sans-serif" font-size="9.5" fill="#000" stroke="#000" stroke-width="0.2">10<tspan font-size="6.3" dx="1.2" dy="-3.5">2</tspan></text>
<text x="216.4" y="377.2" font-family="Liberation Sans, sans-serif" font-size="9.5" fill="#000" stroke="#000" stroke-width="0.2">10<tspan font-size="6.3" dx="1.2" dy="-3.5">3</tspan></text>
<text x="241.6" y="377.2" font-family="Liberation Sans, sans-serif" font-size="9.5" fill="#000" stroke="#000" stroke-width="0.2">10<tspan font-size="6.3" dx="1.2" dy="-3.5">4</tspan></text>
<polyline points="146.5,366.5 147.0,361.8 147.5,358.7 148.1,356.3 148.6,352.6 149.1,353.0 149.6,351.4 150.0,350.5 150.5,348.4 151.0,348.2 151.7,346.9 152.2,341.9 152.7,343.4 153.2,338.7 153.5,340.0 154.0,342.7 154.5,333.4 155.2,332.4 155.7,327.8 156.2,327.0 156.5,321.2 157.0,311.4 157.4,309.2 157.9,307.1 158.5,300.5 159.0,300.2 159.5,292.2 160.0,292.4 160.5,284.8 161.0,288.7 161.6,280.3 162.1,273.2 162.5,272.4 163.0,275.6 163.5,265.6 164.0,266.5 164.5,271.2 165.0,269.1 165.5,269.3 166.0,273.7 166.6,277.0 167.1,280.5 167.3,283.4 168.0,292.9 168.5,294.2 169.0,297.6 169.4,304.9 169.9,312.8 170.2,312.8 170.7,318.4 171.2,325.2 171.6,328.9 172.1,329.6 172.6,336.3 173.0,342.5 173.5,345.2 174.0,350.5 174.5,350.8 175.1,353.5 175.6,357.9 176.1,355.1 176.6,357.0 177.1,359.7 177.6,359.0 178.1,363.8 178.7,362.5 179.2,363.6 179.7,363.4 180.2,366.2 180.7,365.5 181.0,365.2 181.5,365.7 182.0,363.2 182.5,361.4 183.0,360.2 183.5,361.6 184.0,362.5 184.5,362.2 185.0,359.1 185.5,358.9 186.0,362.2 186.5,358.2 187.0,355.6 187.5,359.7 188.0,361.1 188.5,356.4 189.0,352.1 189.5,354.4 190.0,360.8 190.5,356.5 191.0,356.1 191.5,357.9 192.0,362.0" fill="none" stroke="#8a8a8a" stroke-width="0.8"/>
<polyline points="145.5,366.5 146.0,361.8 146.5,360.3 147.1,355.4 147.6,353.4 148.1,352.4 148.6,352.6 149.0,352.4 149.5,350.5 150.0,347.9 150.7,345.8 151.2,343.9 151.7,342.8 152.2,341.5 152.5,339.4 153.0,339.9 153.5,333.9 154.2,331.7 154.7,329.4 155.2,325.4 155.5,321.5 156.0,318.5 156.4,310.1 156.9,310.4 157.5,303.3 158.0,301.6 158.5,293.5 159.0,295.4 159.5,287.1 160.0,287.7 160.6,280.2 161.1,276.3 161.5,272.9 162.0,263.6 162.5,265.6 163.0,269.2 163.5,277.0 164.0,264.4 164.5,272.7 165.0,276.6 165.6,276.8 166.1,281.6 166.3,285.3 167.0,290.9 167.5,290.3 168.0,298.6 168.4,308.6 168.9,312.4 169.2,313.4 169.7,318.9 170.2,327.5 170.6,324.8 171.1,335.3 171.6,339.9 172.0,343.0 172.5,345.5 173.0,348.6 173.5,352.1 174.1,355.5 174.6,355.5 175.1,358.1 175.6,357.5 176.1,359.2 176.6,359.9 177.1,360.3 177.7,362.7 178.2,363.0 178.7,363.0 179.2,364.4 179.7,364.3 180.0,365.9 180.5,365.0 181.0,364.8 181.5,361.6 182.0,360.4 182.5,360.7 183.0,362.6 183.5,360.4 184.0,358.2 184.5,360.8 185.0,361.9 185.5,360.0 186.0,356.6 186.5,357.7 187.0,360.9 187.5,355.6 188.0,353.2 188.5,355.4 189.0,360.5 189.5,358.4 190.0,354.8 190.5,358.0 191.0,362.0" fill="none" stroke="#262626" stroke-width="1.05"/>
<polygon points="186.0,367.0 186.0,367.0 186.5,365.7 187.0,363.7 187.5,364.2 188.0,365.7 188.5,364.2 189.0,362.1 189.5,364.7 190.0,364.3 190.5,361.9 191.0,357.3 191.5,361.5 191.8,362.3 192.5,356.1 193.2,361.7 193.7,355.0 194.0,351.6 194.7,357.4 195.2,352.2 195.5,350.1 196.2,355.5 196.7,351.7 197.0,346.8 197.5,343.9 198.0,342.7 198.5,344.2 198.8,345.6 199.5,337.6 200.2,340.2 200.8,333.9 201.4,330.4 201.9,324.6 202.4,315.9 202.8,314.2 203.2,300.9 203.8,298.6 204.5,284.1 204.9,274.2 205.6,267.7 206.1,262.2 206.3,264.1 207.0,268.9 207.5,275.7 208.0,278.4 208.5,291.5 208.9,312.0 209.4,323.3 209.9,334.6 210.4,340.1 210.9,344.9 211.4,345.0 212.0,349.4 212.5,350.9 213.0,353.0 213.5,354.9 214.0,358.7 214.5,356.1 214.9,358.0 215.4,359.2 216.0,362.2 216.5,363.0 217.0,365.0 217.7,366.5 217.7,367.0" fill="#000"/>
<line x1="274.6" y1="264" x2="274.6" y2="367.3" stroke="#555" stroke-width="1.5"/>
<line x1="274.6" y1="366.7" x2="376.9" y2="366.7" stroke="#333" stroke-width="1.2"/>
<text transform="translate(269.40000000000003,263.7) rotate(-90)" text-anchor="middle" font-family="Liberation Sans, sans-serif" font-size="9.6" fill="#000" stroke="#000" stroke-width="0.2">500</text>
<text transform="translate(269.20000000000005,366.7) rotate(-90)" text-anchor="middle" font-family="Liberation Sans, sans-serif" font-size="9.8" fill="#000" stroke="#000" stroke-width="0.2">0</text>
<text x="270.8" y="377.0" font-family="Liberation Sans, sans-serif" font-size="9.5" fill="#000" stroke="#000" stroke-width="0.2">10<tspan font-size="6.3" dx="1.2" dy="-3.5">0</tspan></text>
<text x="296.3" y="377.0" font-family="Liberation Sans, sans-serif" font-size="9.5" fill="#000" stroke="#000" stroke-width="0.2">10<tspan font-size="6.3" dx="1.2" dy="-3.5">1</tspan></text>
<text x="321.8" y="377.0" font-family="Liberation Sans, sans-serif" font-size="9.5" fill="#000" stroke="#000" stroke-width="0.2">10<tspan font-size="6.3" dx="1.2" dy="-3.5">2</tspan></text>
<text x="347.3" y="377.0" font-family="Liberation Sans, sans-serif" font-size="9.5" fill="#000" stroke="#000" stroke-width="0.2">10<tspan font-size="6.3" dx="1.2" dy="-3.5">3</tspan></text>
<text x="372.8" y="377.0" font-family="Liberation Sans, sans-serif" font-size="9.5" fill="#000" stroke="#000" stroke-width="0.2">10<tspan font-size="6.3" dx="1.2" dy="-3.5">4</tspan></text>
<polyline points="275.5,366.0 275.7,351.6 276.2,352.5 276.7,347.6 277.1,343.8 277.6,343.4 278.1,338.7 278.6,334.5 279.1,334.3 279.6,329.6 280.0,329.0 280.5,325.1 281.0,325.9 281.5,322.4 282.0,320.8 282.5,318.4 283.0,315.2 283.5,313.5 284.2,305.3 284.7,301.3 285.2,293.4 285.6,293.9 286.1,290.2 286.6,277.8 287.1,278.1 287.6,274.9 288.1,274.7 288.6,270.6 289.0,274.9 289.5,268.7 290.0,269.9 290.5,267.1 291.0,274.0 291.3,267.7 291.8,274.0 292.5,271.7 293.0,275.2 293.5,279.6 294.0,283.4 294.5,289.3 294.9,293.1 295.4,300.4 295.9,302.4 296.3,310.1 297.0,317.1 297.5,318.4 298.0,327.4 298.4,328.6 298.9,329.4 299.4,332.5 299.9,333.9 300.4,338.2 300.9,341.5 301.3,343.2 301.8,343.2 302.3,343.0 302.8,345.8 303.3,349.3 303.8,348.6 304.3,349.3 304.8,348.0 305.3,351.2 305.6,352.8 306.1,352.5 306.6,356.2 307.1,355.4 307.6,356.3 308.1,357.8 308.6,359.5 309.1,361.5 309.8,362.2 310.3,362.1 310.8,364.0 311.3,365.1 312.0,366.0" fill="none" stroke="#262626" stroke-width="1.05" stroke-dasharray="1,1.1"/>
<polyline points="285.0,291.1 285.6,306.5 286.3,281.2 286.9,300.5 287.6,276.7 288.2,300.4 288.9,273.3 289.6,299.4 290.2,270.6 290.9,296.6 291.5,268.9 292.2,299.1 292.8,275.8 293.5,301.0 294.1,286.5 294.8,301.2" fill="none" stroke="#999" stroke-width="0.9" stroke-dasharray="1,1.2"/>
<polyline points="310.7,366.0 311.3,364.1 311.8,362.2 312.3,360.6 312.8,359.3 313.3,357.3 313.8,356.8 314.1,354.9 314.6,350.0 315.1,344.6 315.6,339.9 316.2,335.6 316.7,328.8 317.2,320.9 317.7,314.5 318.4,302.2 318.9,294.5 319.4,288.5 319.8,283.6 320.3,282.2 321.0,273.6 321.5,271.4 321.9,268.4 322.5,270.5 323.0,274.8 323.5,276.4 324.0,284.5 324.5,289.2 325.0,315.8 325.5,326.2 326.0,340.0 326.5,346.6 327.0,350.2 327.5,355.0 328.0,360.0" fill="none" stroke="#262626" stroke-width="1.05"/>
<polygon points="314.1,367.0 314.1,367.0 314.6,366.1 315.1,365.1 315.7,363.3 316.2,362.2 316.7,361.5 317.0,361.1 317.5,358.8 318.0,358.0 318.5,356.3 319.0,352.5 319.5,350.4 319.8,349.0 320.3,348.4 320.7,346.5 321.2,342.0 321.9,335.1 322.1,327.6 322.6,320.9 323.1,318.8 323.8,316.1 324.3,310.8 325.0,300.3 325.5,287.2 325.8,280.5 326.2,275.7 326.7,272.0 327.3,269.5 327.8,272.8 328.5,274.7 329.0,280.6 329.5,285.3 330.0,294.7 330.5,295.7 331.2,317.7 331.7,325.2 332.0,330.5 332.5,336.7 333.0,342.6 333.5,347.9 334.0,351.4 334.5,352.9 335.0,354.5 335.6,359.9 336.1,360.2 336.6,362.4 337.1,362.0 337.6,361.0 338.1,364.1 338.5,363.5 339.0,364.5 339.5,365.8 340.0,365.4 340.5,364.4 341.0,365.4 341.5,364.9 342.0,366.4 342.7,366.5 342.7,367.0" fill="#000"/>
<line x1="406.4" y1="263.5" x2="406.4" y2="367.1" stroke="#555" stroke-width="1.5"/>
<line x1="406.4" y1="366.5" x2="507.9" y2="366.5" stroke="#999" stroke-width="1"/>
<line x1="406.4" y1="366.1" x2="507.9" y2="366.1" stroke="#333" stroke-width="1" stroke-dasharray="1,2.3,0.8,1.7"/>
<text transform="translate(401.2,263.2) rotate(-90)" text-anchor="middle" font-family="Liberation Sans, sans-serif" font-size="9.6" fill="#000" stroke="#000" stroke-width="0.2">415</text>
<text transform="translate(401.0,366.5) rotate(-90)" text-anchor="middle" font-family="Liberation Sans, sans-serif" font-size="9.8" fill="#000" stroke="#000" stroke-width="0.2">0</text>
<text x="402.1" y="376.8" font-family="Liberation Sans, sans-serif" font-size="9.5" fill="#000" stroke="#000" stroke-width="0.2">10<tspan font-size="6.3" dx="1.2" dy="-3.5">0</tspan></text>
<text x="427.4" y="376.8" font-family="Liberation Sans, sans-serif" font-size="9.5" fill="#000" stroke="#000" stroke-width="0.2">10<tspan font-size="6.3" dx="1.2" dy="-3.5">1</tspan></text>
<text x="452.7" y="376.8" font-family="Liberation Sans, sans-serif" font-size="9.5" fill="#000" stroke="#000" stroke-width="0.2">10<tspan font-size="6.3" dx="1.2" dy="-3.5">2</tspan></text>
<text x="478.0" y="376.8" font-family="Liberation Sans, sans-serif" font-size="9.5" fill="#000" stroke="#000" stroke-width="0.2">10<tspan font-size="6.3" dx="1.2" dy="-3.5">3</tspan></text>
<text x="503.3" y="376.8" font-family="Liberation Sans, sans-serif" font-size="9.5" fill="#000" stroke="#000" stroke-width="0.2">10<tspan font-size="6.3" dx="1.2" dy="-3.5">4</tspan></text>
<polyline points="407.0,366.0 407.3,351.5 407.8,345.7 408.1,345.8 408.6,344.7 409.1,342.2 409.6,336.8 410.2,334.4 410.7,330.5 411.2,327.8 411.7,329.3 412.4,325.5 412.9,326.7 413.4,322.0 413.9,318.5 414.4,313.4 414.9,319.5 415.2,314.3 415.7,310.5 416.2,304.1 416.5,303.1 417.0,302.9 417.4,295.8 417.9,295.5 418.4,291.6 418.8,285.4 419.5,269.8 420.0,279.2 420.5,285.0 421.0,273.8 421.6,267.7 422.1,277.6 422.5,276.3 423.0,269.7 423.5,272.7 423.8,265.6 424.3,269.8 424.7,276.0 425.2,270.7 425.5,268.8 426.0,278.4 426.6,284.5 427.1,284.3 427.6,292.6 428.1,302.4 428.7,305.3 429.4,317.7 429.9,320.6 430.4,325.9 430.9,326.2 431.4,328.4 431.6,331.7 432.1,330.5 432.6,335.9 433.1,334.9 433.6,338.1 434.1,337.4 434.6,340.5 435.1,343.5 435.6,343.5 436.1,344.2 436.6,347.4 437.1,349.9 437.6,349.6 438.1,349.6 438.6,350.6 439.1,352.5 439.4,356.2 439.9,356.0 440.4,357.6 440.9,359.1 441.4,358.9 441.9,360.0 442.4,359.7 442.9,359.5 443.4,362.5 443.7,362.3 444.2,363.7 444.7,363.1 445.2,364.7 445.7,366.0 446.0,366.0" fill="none" stroke="#8a8a8a" stroke-width="0.8"/>
<polyline points="406.0,366.0 406.3,350.4 406.8,347.6 407.1,346.4 407.6,342.6 408.1,340.7 408.6,334.7 409.2,336.1 409.7,332.3 410.2,333.1 410.7,328.4 411.4,325.0 411.9,324.2 412.4,320.9 412.9,318.2 413.4,320.5 413.9,317.3 414.2,314.2 414.7,312.3 415.2,309.0 415.5,305.8 416.0,301.0 416.4,297.7 416.9,294.6 417.4,290.9 417.8,286.8 418.5,272.5 419.0,277.5 419.5,282.7 420.0,274.1 420.6,270.5 421.1,275.7 421.5,276.3 422.0,271.2 422.5,267.9 422.8,265.6 423.3,269.5 423.7,276.7 424.2,271.2 424.5,267.6 425.0,274.4 425.6,286.7 426.1,290.8 426.6,293.2 427.1,295.3 427.7,303.1 428.4,313.0 428.9,316.5 429.4,321.8 429.9,324.1 430.4,330.0 430.6,330.2 431.1,331.9 431.6,333.9 432.1,338.3 432.6,340.1 433.1,340.6 433.6,339.6 434.1,342.4 434.6,345.2 435.1,346.5 435.6,344.7 436.1,348.3 436.6,349.0 437.1,352.3 437.6,353.6 438.1,353.8 438.4,356.6 438.9,355.9 439.4,359.3 439.9,357.6 440.4,358.5 440.9,361.0 441.4,359.8 441.9,360.7 442.4,363.0 442.7,362.4 443.2,363.5 443.7,363.2 444.2,365.7 444.7,366.0 445.0,366.0" fill="none" stroke="#262626" stroke-width="1.05"/>
<polygon points="444.1,367.0 444.1,366.5 444.3,364.6 444.8,363.8 445.3,361.8 445.8,360.7 446.3,358.5 446.8,359.1 447.1,358.8 447.6,357.0 448.1,355.1 448.6,352.9 449.2,348.9 449.7,346.8 450.2,348.2 450.5,346.8 451.0,341.9 451.4,335.0 451.9,332.6 452.4,333.8 452.6,331.9 453.1,319.0 453.5,313.2 453.8,298.8 454.3,296.1 454.8,296.8 455.3,292.4 455.8,288.6 456.2,279.1 456.7,271.2 457.0,272.0 457.6,264.1 458.3,269.9 459.0,276.9 459.5,281.6 460.0,290.3 460.5,295.2 461.2,318.3 461.7,326.7 462.0,335.9 462.5,339.2 463.0,345.2 463.5,348.7 464.0,351.5 464.5,355.3 465.0,357.3 465.6,358.5 466.1,361.1 466.6,360.3 467.1,362.4 467.6,363.4 468.1,363.5 468.4,364.4 468.9,364.6 469.4,365.3 469.9,365.8 470.4,366.3 470.9,366.1 471.4,367.0 472.0,366.5 472.0,367.0" fill="#000"/>
</svg>
</body></html>
